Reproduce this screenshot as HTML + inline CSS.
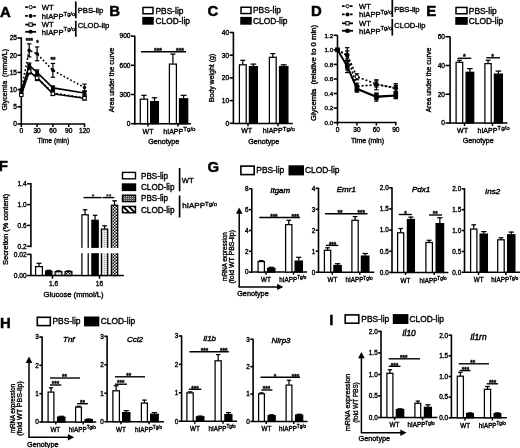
<!DOCTYPE html>
<html><head><meta charset="utf-8"><title>Figure</title>
<style>html,body{margin:0;padding:0;background:#fff}svg{display:block;filter:grayscale(1) blur(0.35px)}</style>
</head><body>
<svg width="520" height="448" viewBox="0 0 520 448" font-family="Liberation Sans, sans-serif" fill="#000">
<defs>
<pattern id="pgrey" width="2" height="2" patternUnits="userSpaceOnUse"><rect width="2" height="2" fill="#e4e4e4"/><rect width="1" height="1" fill="#aaa"/></pattern>
<pattern id="pchk" width="3" height="3" patternUnits="userSpaceOnUse"><rect width="3" height="3" fill="#fff"/><rect width="1.5" height="1.5" fill="#000"/><rect x="1.5" y="1.5" width="1.5" height="1.5" fill="#000"/></pattern>
<pattern id="pgrid" width="2" height="2" patternUnits="userSpaceOnUse"><rect width="2" height="2" fill="#555"/><rect width="1" height="1" fill="#bbb"/></pattern>
<pattern id="pdiag" width="4" height="4" patternUnits="userSpaceOnUse" patternTransform="rotate(-45)"><rect width="4" height="4" fill="#fff"/><rect width="2" height="4" fill="#000"/></pattern>
</defs>
<rect width="520" height="448" fill="#fff"/>
<text x="0" y="16.8" font-size="14.9" text-anchor="start" font-weight="bold" font-style="normal" stroke="#000" stroke-width="0.5">A</text>
<text x="109.2" y="16.3" font-size="14.9" text-anchor="start" font-weight="bold" font-style="normal" stroke="#000" stroke-width="0.5">B</text>
<text x="207.5" y="16.4" font-size="14.9" text-anchor="start" font-weight="bold" font-style="normal" stroke="#000" stroke-width="0.5">C</text>
<text x="310.9" y="16.3" font-size="14.9" text-anchor="start" font-weight="bold" font-style="normal" stroke="#000" stroke-width="0.5">D</text>
<text x="426.2" y="16.2" font-size="14.9" text-anchor="start" font-weight="bold" font-style="normal" stroke="#000" stroke-width="0.5">E</text>
<text x="-1.2" y="171" font-size="14.9" text-anchor="start" font-weight="bold" font-style="normal" stroke="#000" stroke-width="0.5">F</text>
<text x="207.6" y="171.7" font-size="14.9" text-anchor="start" font-weight="bold" font-style="normal" stroke="#000" stroke-width="0.5">G</text>
<text x="0" y="328.3" font-size="14.9" text-anchor="start" font-weight="bold" font-style="normal" stroke="#000" stroke-width="0.5">H</text>
<text x="329.2" y="324.9" font-size="14.9" text-anchor="start" font-weight="bold" font-style="normal" stroke="#000" stroke-width="0.5">I</text>
<line x1="25.2" y1="7.2" x2="36" y2="7.2" stroke="#000" stroke-width="1.8" stroke-linecap="butt" stroke-dasharray="2.6 1.4"/>
<circle cx="30.60" cy="7.20" r="1.7" fill="#fff" stroke="#000" stroke-width="1"/>
<line x1="25.2" y1="15.9" x2="36" y2="15.9" stroke="#000" stroke-width="1.8" stroke-linecap="butt" stroke-dasharray="2.6 1.4"/>
<circle cx="30.60" cy="15.90" r="2.0" fill="#000"/>
<line x1="25.2" y1="24.6" x2="36" y2="24.6" stroke="#000" stroke-width="1.8" stroke-linecap="butt"/>
<rect x="28.90" y="22.90" width="3.4" height="3.4" fill="#fff" stroke="#000" stroke-width="1"/>
<line x1="25.2" y1="31.8" x2="36" y2="31.8" stroke="#000" stroke-width="1.8" stroke-linecap="butt"/>
<circle cx="30.60" cy="31.80" r="2.0" fill="#000"/>
<text x="41.8" y="9.972" font-size="7.7" text-anchor="start" font-weight="normal" font-style="normal"  stroke="#000" stroke-width="0.36">WT</text>
<text x="41.8" y="18.672" font-size="7.7" text-anchor="start" font-weight="normal" font-style="normal"  stroke="#000" stroke-width="0.36">hIAPP<tspan dy="-3.08" font-size="5.80">Tg/o</tspan></text>
<text x="41.8" y="27.372" font-size="7.7" text-anchor="start" font-weight="normal" font-style="normal"  stroke="#000" stroke-width="0.36">WT</text>
<text x="41.8" y="34.572" font-size="7.7" text-anchor="start" font-weight="normal" font-style="normal"  stroke="#000" stroke-width="0.36">hIAPP<tspan dy="-3.08" font-size="5.80">Tg/o</tspan></text>
<line x1="75.8" y1="1.5" x2="75.8" y2="18.3" stroke="#000" stroke-width="1.7" stroke-linecap="butt"/>
<line x1="75.8" y1="20.8" x2="75.8" y2="36.8" stroke="#000" stroke-width="1.7" stroke-linecap="butt"/>
<text x="77.7" y="13.172" font-size="7.7" text-anchor="start" font-weight="normal" font-style="normal"  stroke="#000" stroke-width="0.36">PBS-lip</text>
<text x="77.7" y="28.372" font-size="7.7" text-anchor="start" font-weight="normal" font-style="normal"  stroke="#000" stroke-width="0.36">CLOD-lip</text>
<line x1="21.3" y1="37.4" x2="21.3" y2="124.69999999999999" stroke="#000" stroke-width="1.6" stroke-linecap="butt"/>
<line x1="17.5" y1="106.8" x2="21.3" y2="106.8" stroke="#000" stroke-width="1.6" stroke-linecap="butt"/>
<text x="17.0" y="109.176" font-size="6.6" text-anchor="end" font-weight="normal" font-style="normal"  stroke="#000" stroke-width="0.36">5</text>
<line x1="17.5" y1="89.6" x2="21.3" y2="89.6" stroke="#000" stroke-width="1.6" stroke-linecap="butt"/>
<text x="17.0" y="91.976" font-size="6.6" text-anchor="end" font-weight="normal" font-style="normal"  stroke="#000" stroke-width="0.36">10</text>
<line x1="17.5" y1="72.4" x2="21.3" y2="72.4" stroke="#000" stroke-width="1.6" stroke-linecap="butt"/>
<text x="17.0" y="74.77600000000001" font-size="6.6" text-anchor="end" font-weight="normal" font-style="normal"  stroke="#000" stroke-width="0.36">15</text>
<line x1="17.5" y1="55.2" x2="21.3" y2="55.2" stroke="#000" stroke-width="1.6" stroke-linecap="butt"/>
<text x="17.0" y="57.576" font-size="6.6" text-anchor="end" font-weight="normal" font-style="normal"  stroke="#000" stroke-width="0.36">20</text>
<line x1="17.5" y1="38.0" x2="21.3" y2="38.0" stroke="#000" stroke-width="1.6" stroke-linecap="butt"/>
<text x="17.0" y="40.376" font-size="6.6" text-anchor="end" font-weight="normal" font-style="normal"  stroke="#000" stroke-width="0.36">25</text>
<line x1="17.5" y1="124" x2="21.3" y2="124" stroke="#000" stroke-width="1.6" stroke-linecap="butt"/>
<text x="17.0" y="126.376" font-size="6.6" text-anchor="end" font-weight="normal" font-style="normal"  stroke="#000" stroke-width="0.36">0</text>
<line x1="20.7" y1="124.1" x2="85.4" y2="124.1" stroke="#000" stroke-width="1.5" stroke-linecap="butt"/>
<line x1="21.3" y1="124" x2="21.3" y2="127" stroke="#000" stroke-width="1.5" stroke-linecap="butt"/>
<text x="21.3" y="133.4" font-size="6.6" text-anchor="middle" font-weight="normal" font-style="normal"  stroke="#000" stroke-width="0.36">0</text>
<line x1="37.1" y1="124" x2="37.1" y2="127" stroke="#000" stroke-width="1.5" stroke-linecap="butt"/>
<text x="37.1" y="133.4" font-size="6.6" text-anchor="middle" font-weight="normal" font-style="normal"  stroke="#000" stroke-width="0.36">30</text>
<line x1="52.900000000000006" y1="124" x2="52.900000000000006" y2="127" stroke="#000" stroke-width="1.5" stroke-linecap="butt"/>
<text x="52.900000000000006" y="133.4" font-size="6.6" text-anchor="middle" font-weight="normal" font-style="normal"  stroke="#000" stroke-width="0.36">60</text>
<line x1="68.7" y1="124" x2="68.7" y2="127" stroke="#000" stroke-width="1.5" stroke-linecap="butt"/>
<text x="68.7" y="133.4" font-size="6.6" text-anchor="middle" font-weight="normal" font-style="normal"  stroke="#000" stroke-width="0.36">90</text>
<line x1="84.5" y1="124" x2="84.5" y2="127" stroke="#000" stroke-width="1.5" stroke-linecap="butt"/>
<text x="84.5" y="133.4" font-size="6.6" text-anchor="middle" font-weight="normal" font-style="normal"  stroke="#000" stroke-width="0.36">120</text>
<text x="53.3" y="143.3" font-size="7.1" text-anchor="middle" font-weight="normal" font-style="normal"  textLength="31.8" lengthAdjust="spacingAndGlyphs" stroke="#000" stroke-width="0.36">Time (min)</text>
<text x="7" y="79.7" font-size="7.2" text-anchor="middle" font-weight="normal" font-style="normal" transform="rotate(-90 7 79.7)"  textLength="61.4" lengthAdjust="spacingAndGlyphs" stroke="#000" stroke-width="0.36">Glycemia&#160;&#160;(mmol/L)</text>
<polyline points="21.30,89.60 29.20,50.38 37.10,53.82 52.90,70.34 84.50,87.54" fill="none" stroke="#000" stroke-width="1.6" stroke-dasharray="1.7 2.1"/>
<circle cx="21.30" cy="89.60" r="1.8" fill="#000"/>
<line x1="29.200000000000003" y1="43.848" x2="29.200000000000003" y2="56.92" stroke="#000" stroke-width="1.2" stroke-linecap="butt"/>
<line x1="27.000000000000004" y1="43.848" x2="31.400000000000002" y2="43.848" stroke="#000" stroke-width="1.2" stroke-linecap="butt"/>
<line x1="27.000000000000004" y1="56.92" x2="31.400000000000002" y2="56.92" stroke="#000" stroke-width="1.2" stroke-linecap="butt"/>
<circle cx="29.20" cy="50.38" r="1.8" fill="#000"/>
<line x1="37.1" y1="46.94400000000001" x2="37.1" y2="60.704000000000015" stroke="#000" stroke-width="1.2" stroke-linecap="butt"/>
<line x1="34.9" y1="46.94400000000001" x2="39.300000000000004" y2="46.94400000000001" stroke="#000" stroke-width="1.2" stroke-linecap="butt"/>
<line x1="34.9" y1="60.704000000000015" x2="39.300000000000004" y2="60.704000000000015" stroke="#000" stroke-width="1.2" stroke-linecap="butt"/>
<circle cx="37.10" cy="53.82" r="1.8" fill="#000"/>
<line x1="52.900000000000006" y1="63.455999999999996" x2="52.900000000000006" y2="77.216" stroke="#000" stroke-width="1.2" stroke-linecap="butt"/>
<line x1="50.7" y1="63.455999999999996" x2="55.10000000000001" y2="63.455999999999996" stroke="#000" stroke-width="1.2" stroke-linecap="butt"/>
<line x1="50.7" y1="77.216" x2="55.10000000000001" y2="77.216" stroke="#000" stroke-width="1.2" stroke-linecap="butt"/>
<circle cx="52.90" cy="70.34" r="1.8" fill="#000"/>
<line x1="84.5" y1="84.096" x2="84.5" y2="90.976" stroke="#000" stroke-width="1.2" stroke-linecap="butt"/>
<line x1="82.3" y1="84.096" x2="86.7" y2="84.096" stroke="#000" stroke-width="1.2" stroke-linecap="butt"/>
<line x1="82.3" y1="90.976" x2="86.7" y2="90.976" stroke="#000" stroke-width="1.2" stroke-linecap="butt"/>
<circle cx="84.50" cy="87.54" r="1.8" fill="#000"/>
<polyline points="21.30,94.76 29.20,71.02 37.10,77.56 52.90,93.04 84.50,97.86" fill="none" stroke="#000" stroke-width="1.6" stroke-dasharray="1.7 2.1"/>
<circle cx="21.30" cy="94.76" r="1.7" fill="#fff" stroke="#000" stroke-width="1"/>
<line x1="29.200000000000003" y1="68.024" x2="29.200000000000003" y2="74.024" stroke="#000" stroke-width="1.2" stroke-linecap="butt"/>
<line x1="27.000000000000004" y1="68.024" x2="31.400000000000002" y2="68.024" stroke="#000" stroke-width="1.2" stroke-linecap="butt"/>
<line x1="27.000000000000004" y1="74.024" x2="31.400000000000002" y2="74.024" stroke="#000" stroke-width="1.2" stroke-linecap="butt"/>
<circle cx="29.20" cy="71.02" r="1.7" fill="#fff" stroke="#000" stroke-width="1"/>
<line x1="37.1" y1="74.56" x2="37.1" y2="80.56" stroke="#000" stroke-width="1.2" stroke-linecap="butt"/>
<line x1="34.9" y1="74.56" x2="39.300000000000004" y2="74.56" stroke="#000" stroke-width="1.2" stroke-linecap="butt"/>
<line x1="34.9" y1="80.56" x2="39.300000000000004" y2="80.56" stroke="#000" stroke-width="1.2" stroke-linecap="butt"/>
<circle cx="37.10" cy="77.56" r="1.7" fill="#fff" stroke="#000" stroke-width="1"/>
<line x1="52.900000000000006" y1="90.54" x2="52.900000000000006" y2="95.54" stroke="#000" stroke-width="1.2" stroke-linecap="butt"/>
<line x1="50.7" y1="90.54" x2="55.10000000000001" y2="90.54" stroke="#000" stroke-width="1.2" stroke-linecap="butt"/>
<line x1="50.7" y1="95.54" x2="55.10000000000001" y2="95.54" stroke="#000" stroke-width="1.2" stroke-linecap="butt"/>
<circle cx="52.90" cy="93.04" r="1.7" fill="#fff" stroke="#000" stroke-width="1"/>
<line x1="84.5" y1="95.856" x2="84.5" y2="99.856" stroke="#000" stroke-width="1.2" stroke-linecap="butt"/>
<line x1="82.3" y1="95.856" x2="86.7" y2="95.856" stroke="#000" stroke-width="1.2" stroke-linecap="butt"/>
<line x1="82.3" y1="99.856" x2="86.7" y2="99.856" stroke="#000" stroke-width="1.2" stroke-linecap="butt"/>
<circle cx="84.50" cy="97.86" r="1.7" fill="#fff" stroke="#000" stroke-width="1"/>
<polyline points="21.30,94.76 29.20,71.37 37.10,77.90 52.90,93.73 84.50,98.20" fill="none" stroke="#000" stroke-width="1.6"/>
<rect x="19.60" y="93.06" width="3.4" height="3.4" fill="#fff" stroke="#000" stroke-width="1"/>
<line x1="29.200000000000003" y1="69.368" x2="29.200000000000003" y2="73.368" stroke="#000" stroke-width="1.2" stroke-linecap="butt"/>
<line x1="27.000000000000004" y1="69.368" x2="31.400000000000002" y2="69.368" stroke="#000" stroke-width="1.2" stroke-linecap="butt"/>
<line x1="27.000000000000004" y1="73.368" x2="31.400000000000002" y2="73.368" stroke="#000" stroke-width="1.2" stroke-linecap="butt"/>
<rect x="27.50" y="69.67" width="3.4" height="3.4" fill="#fff" stroke="#000" stroke-width="1"/>
<line x1="37.1" y1="75.904" x2="37.1" y2="79.904" stroke="#000" stroke-width="1.2" stroke-linecap="butt"/>
<line x1="34.9" y1="75.904" x2="39.300000000000004" y2="75.904" stroke="#000" stroke-width="1.2" stroke-linecap="butt"/>
<line x1="34.9" y1="79.904" x2="39.300000000000004" y2="79.904" stroke="#000" stroke-width="1.2" stroke-linecap="butt"/>
<rect x="35.40" y="76.20" width="3.4" height="3.4" fill="#fff" stroke="#000" stroke-width="1"/>
<line x1="52.900000000000006" y1="92.228" x2="52.900000000000006" y2="95.228" stroke="#000" stroke-width="1.2" stroke-linecap="butt"/>
<line x1="50.7" y1="92.228" x2="55.10000000000001" y2="92.228" stroke="#000" stroke-width="1.2" stroke-linecap="butt"/>
<line x1="50.7" y1="95.228" x2="55.10000000000001" y2="95.228" stroke="#000" stroke-width="1.2" stroke-linecap="butt"/>
<rect x="51.20" y="92.03" width="3.4" height="3.4" fill="#fff" stroke="#000" stroke-width="1"/>
<line x1="84.5" y1="96.7" x2="84.5" y2="99.7" stroke="#000" stroke-width="1.2" stroke-linecap="butt"/>
<line x1="82.3" y1="96.7" x2="86.7" y2="96.7" stroke="#000" stroke-width="1.2" stroke-linecap="butt"/>
<line x1="82.3" y1="99.7" x2="86.7" y2="99.7" stroke="#000" stroke-width="1.2" stroke-linecap="butt"/>
<rect x="82.80" y="96.50" width="3.4" height="3.4" fill="#fff" stroke="#000" stroke-width="1"/>
<polyline points="21.30,91.32 29.20,65.52 37.10,72.40 52.90,87.88 84.50,93.04" fill="none" stroke="#000" stroke-width="1.6"/>
<line x1="21.3" y1="89.32" x2="21.3" y2="93.32" stroke="#000" stroke-width="1.2" stroke-linecap="butt"/>
<line x1="19.1" y1="89.32" x2="23.5" y2="89.32" stroke="#000" stroke-width="1.2" stroke-linecap="butt"/>
<line x1="19.1" y1="93.32" x2="23.5" y2="93.32" stroke="#000" stroke-width="1.2" stroke-linecap="butt"/>
<rect x="19.40" y="89.42" width="3.8000000000000003" height="3.8000000000000003" fill="#000"/>
<line x1="29.200000000000003" y1="63.02000000000001" x2="29.200000000000003" y2="68.02000000000001" stroke="#000" stroke-width="1.2" stroke-linecap="butt"/>
<line x1="27.000000000000004" y1="63.02000000000001" x2="31.400000000000002" y2="63.02000000000001" stroke="#000" stroke-width="1.2" stroke-linecap="butt"/>
<line x1="27.000000000000004" y1="68.02000000000001" x2="31.400000000000002" y2="68.02000000000001" stroke="#000" stroke-width="1.2" stroke-linecap="butt"/>
<rect x="27.30" y="63.62" width="3.8000000000000003" height="3.8000000000000003" fill="#000"/>
<line x1="37.1" y1="69.9" x2="37.1" y2="74.9" stroke="#000" stroke-width="1.2" stroke-linecap="butt"/>
<line x1="34.9" y1="69.9" x2="39.300000000000004" y2="69.9" stroke="#000" stroke-width="1.2" stroke-linecap="butt"/>
<line x1="34.9" y1="74.9" x2="39.300000000000004" y2="74.9" stroke="#000" stroke-width="1.2" stroke-linecap="butt"/>
<rect x="35.20" y="70.50" width="3.8000000000000003" height="3.8000000000000003" fill="#000"/>
<line x1="52.900000000000006" y1="85.88" x2="52.900000000000006" y2="89.88" stroke="#000" stroke-width="1.2" stroke-linecap="butt"/>
<line x1="50.7" y1="85.88" x2="55.10000000000001" y2="85.88" stroke="#000" stroke-width="1.2" stroke-linecap="butt"/>
<line x1="50.7" y1="89.88" x2="55.10000000000001" y2="89.88" stroke="#000" stroke-width="1.2" stroke-linecap="butt"/>
<rect x="51.00" y="85.98" width="3.8000000000000003" height="3.8000000000000003" fill="#000"/>
<line x1="84.5" y1="91.04" x2="84.5" y2="95.04" stroke="#000" stroke-width="1.2" stroke-linecap="butt"/>
<line x1="82.3" y1="91.04" x2="86.7" y2="91.04" stroke="#000" stroke-width="1.2" stroke-linecap="butt"/>
<line x1="82.3" y1="95.04" x2="86.7" y2="95.04" stroke="#000" stroke-width="1.2" stroke-linecap="butt"/>
<rect x="82.60" y="91.14" width="3.8000000000000003" height="3.8000000000000003" fill="#000"/>
<text x="29.4" y="42.6" font-size="6.3" text-anchor="middle" font-weight="bold" font-style="normal" stroke="#000" stroke-width="0.4">***</text>
<text x="37.6" y="45.2" font-size="6.3" text-anchor="middle" font-weight="bold" font-style="normal" stroke="#000" stroke-width="0.4">*</text>
<text x="53" y="61.8" font-size="6.3" text-anchor="middle" font-weight="bold" font-style="normal" stroke="#000" stroke-width="0.4">**</text>
<rect x="143" y="7.449999999999999" width="10.00" height="6.30" fill="#fff" stroke="#000" stroke-width="1.5"/>
<rect x="143" y="17.650000000000002" width="10.00" height="6.30" fill="#000" stroke="#000" stroke-width="1.5"/>
<text x="155.5" y="13.623999999999999" font-size="8.4" text-anchor="start" font-weight="normal" font-style="normal"  stroke="#000" stroke-width="0.36">PBS-lip</text>
<text x="155.5" y="23.824" font-size="8.4" text-anchor="start" font-weight="normal" font-style="normal"  stroke="#000" stroke-width="0.36">CLOD-lip</text>
<line x1="134.8" y1="35.8" x2="134.8" y2="124.39999999999999" stroke="#000" stroke-width="1.6" stroke-linecap="butt"/>
<line x1="131.0" y1="123.7" x2="134.8" y2="123.7" stroke="#000" stroke-width="1.6" stroke-linecap="butt"/>
<text x="130.5" y="126.07600000000001" font-size="6.6" text-anchor="end" font-weight="normal" font-style="normal"  stroke="#000" stroke-width="0.36">0</text>
<line x1="131.0" y1="94.5" x2="134.8" y2="94.5" stroke="#000" stroke-width="1.6" stroke-linecap="butt"/>
<text x="130.5" y="96.876" font-size="6.6" text-anchor="end" font-weight="normal" font-style="normal"  stroke="#000" stroke-width="0.36">300</text>
<line x1="131.0" y1="65.30000000000001" x2="134.8" y2="65.30000000000001" stroke="#000" stroke-width="1.6" stroke-linecap="butt"/>
<text x="130.5" y="67.67600000000002" font-size="6.6" text-anchor="end" font-weight="normal" font-style="normal"  stroke="#000" stroke-width="0.36">600</text>
<line x1="131.0" y1="36.10000000000001" x2="134.8" y2="36.10000000000001" stroke="#000" stroke-width="1.6" stroke-linecap="butt"/>
<text x="130.5" y="38.476000000000006" font-size="6.6" text-anchor="end" font-weight="normal" font-style="normal"  stroke="#000" stroke-width="0.36">900</text>
<line x1="134.20000000000002" y1="123.8" x2="191" y2="123.8" stroke="#000" stroke-width="1.5" stroke-linecap="butt"/>
<line x1="143.95" y1="98.88" x2="143.95" y2="95" stroke="#000" stroke-width="1.25" stroke-linecap="butt"/>
<line x1="141.315" y1="95.3" x2="146.58499999999998" y2="95.3" stroke="#000" stroke-width="1.25" stroke-linecap="butt"/>
<rect x="140.29999999999998" y="99.17999999999999" width="7.30" height="24.52" fill="#fff" stroke="#000" stroke-width="1.25"/>
<line x1="154.5" y1="101.31333333333333" x2="154.5" y2="97.5" stroke="#000" stroke-width="1.25" stroke-linecap="butt"/>
<line x1="151.71" y1="97.8" x2="157.29" y2="97.8" stroke="#000" stroke-width="1.25" stroke-linecap="butt"/>
<rect x="150.6" y="101.61333333333333" width="7.80" height="22.09" fill="#000" stroke="#000" stroke-width="1.25"/>
<line x1="172.9" y1="63.8" x2="172.9" y2="53.8" stroke="#000" stroke-width="1.25" stroke-linecap="butt"/>
<line x1="170.358" y1="54.099999999999994" x2="175.442" y2="54.099999999999994" stroke="#000" stroke-width="1.25" stroke-linecap="butt"/>
<rect x="169.4" y="64.1" width="7.00" height="59.60" fill="#fff" stroke="#000" stroke-width="1.25"/>
<line x1="183.60000000000002" y1="98.5" x2="183.60000000000002" y2="95" stroke="#000" stroke-width="1.25" stroke-linecap="butt"/>
<line x1="180.686" y1="95.3" x2="186.51400000000004" y2="95.3" stroke="#000" stroke-width="1.25" stroke-linecap="butt"/>
<rect x="179.5" y="98.8" width="8.20" height="24.90" fill="#000" stroke="#000" stroke-width="1.25"/>
<line x1="148" y1="123.7" x2="148" y2="126.5" stroke="#000" stroke-width="1.5" stroke-linecap="butt"/>
<line x1="178" y1="123.7" x2="178" y2="126.5" stroke="#000" stroke-width="1.5" stroke-linecap="butt"/>
<line x1="141" y1="51.8" x2="186" y2="51.8" stroke="#000" stroke-width="1.4" stroke-linecap="butt"/>
<text x="158" y="52.8" font-size="7" text-anchor="middle" font-weight="bold" font-style="normal" stroke="#000" stroke-width="0.3">***</text>
<text x="180" y="52.8" font-size="7" text-anchor="middle" font-weight="bold" font-style="normal" stroke="#000" stroke-width="0.3">***</text>
<text x="148" y="133.5" font-size="7" text-anchor="middle" font-weight="normal" font-style="normal"  stroke="#000" stroke-width="0.36">WT</text>
<text x="163.3" y="133.5" font-size="7" text-anchor="start" font-weight="normal" font-style="normal"  stroke="#000" stroke-width="0.36">hIAPP<tspan dy="-2.80" font-size="6.20">Tg/o</tspan></text>
<text x="163.8" y="143.7" font-size="7.1" text-anchor="middle" font-weight="normal" font-style="normal"  textLength="31" lengthAdjust="spacingAndGlyphs" stroke="#000" stroke-width="0.36">Genotype</text>
<text x="114.3" y="80" font-size="7" text-anchor="middle" font-weight="normal" font-style="normal" transform="rotate(-90 114.3 80)"  textLength="64.5" lengthAdjust="spacingAndGlyphs" stroke="#000" stroke-width="0.36">Area under the curve</text>
<rect x="241" y="7.25" width="10.00" height="6.30" fill="#fff" stroke="#000" stroke-width="1.5"/>
<rect x="241" y="17.650000000000002" width="10.00" height="6.30" fill="#000" stroke="#000" stroke-width="1.5"/>
<text x="253" y="13.424" font-size="8.4" text-anchor="start" font-weight="normal" font-style="normal"  stroke="#000" stroke-width="0.36">PBS-lip</text>
<text x="253" y="23.824" font-size="8.4" text-anchor="start" font-weight="normal" font-style="normal"  stroke="#000" stroke-width="0.36">CLOD-lip</text>
<line x1="233.4" y1="31.9" x2="233.4" y2="124.0" stroke="#000" stroke-width="1.6" stroke-linecap="butt"/>
<line x1="229.6" y1="123.3" x2="233.4" y2="123.3" stroke="#000" stroke-width="1.6" stroke-linecap="butt"/>
<text x="229.1" y="125.676" font-size="6.6" text-anchor="end" font-weight="normal" font-style="normal"  stroke="#000" stroke-width="0.36">0</text>
<line x1="229.6" y1="100.6" x2="233.4" y2="100.6" stroke="#000" stroke-width="1.6" stroke-linecap="butt"/>
<text x="229.1" y="102.976" font-size="6.6" text-anchor="end" font-weight="normal" font-style="normal"  stroke="#000" stroke-width="0.36">10</text>
<line x1="229.6" y1="77.9" x2="233.4" y2="77.9" stroke="#000" stroke-width="1.6" stroke-linecap="butt"/>
<text x="229.1" y="80.27600000000001" font-size="6.6" text-anchor="end" font-weight="normal" font-style="normal"  stroke="#000" stroke-width="0.36">20</text>
<line x1="229.6" y1="55.2" x2="233.4" y2="55.2" stroke="#000" stroke-width="1.6" stroke-linecap="butt"/>
<text x="229.1" y="57.576" font-size="6.6" text-anchor="end" font-weight="normal" font-style="normal"  stroke="#000" stroke-width="0.36">30</text>
<line x1="229.6" y1="32.5" x2="233.4" y2="32.5" stroke="#000" stroke-width="1.6" stroke-linecap="butt"/>
<text x="229.1" y="34.876" font-size="6.6" text-anchor="end" font-weight="normal" font-style="normal"  stroke="#000" stroke-width="0.36">40</text>
<line x1="232.8" y1="123.4" x2="292.8" y2="123.4" stroke="#000" stroke-width="1.5" stroke-linecap="butt"/>
<line x1="242.8" y1="64.5" x2="242.8" y2="60" stroke="#000" stroke-width="1.25" stroke-linecap="butt"/>
<line x1="240.32000000000002" y1="60.3" x2="245.28" y2="60.3" stroke="#000" stroke-width="1.25" stroke-linecap="butt"/>
<rect x="239.4" y="64.8" width="6.80" height="58.50" fill="#fff" stroke="#000" stroke-width="1.25"/>
<line x1="253.4" y1="66.3" x2="253.4" y2="63.8" stroke="#000" stroke-width="1.25" stroke-linecap="butt"/>
<line x1="250.548" y1="64.1" x2="256.252" y2="64.1" stroke="#000" stroke-width="1.25" stroke-linecap="butt"/>
<rect x="249.4" y="66.6" width="8.00" height="56.70" fill="#000" stroke="#000" stroke-width="1.25"/>
<line x1="272.8" y1="57" x2="272.8" y2="53.3" stroke="#000" stroke-width="1.25" stroke-linecap="butt"/>
<line x1="270.32" y1="53.599999999999994" x2="275.28000000000003" y2="53.599999999999994" stroke="#000" stroke-width="1.25" stroke-linecap="butt"/>
<rect x="269.40000000000003" y="57.3" width="6.80" height="66.00" fill="#fff" stroke="#000" stroke-width="1.25"/>
<line x1="283.7" y1="66.3" x2="283.7" y2="64.5" stroke="#000" stroke-width="1.25" stroke-linecap="butt"/>
<line x1="280.724" y1="64.8" x2="286.676" y2="64.8" stroke="#000" stroke-width="1.25" stroke-linecap="butt"/>
<rect x="279.5" y="66.6" width="8.40" height="56.70" fill="#000" stroke="#000" stroke-width="1.25"/>
<line x1="248" y1="123.3" x2="248" y2="126.2" stroke="#000" stroke-width="1.5" stroke-linecap="butt"/>
<line x1="278" y1="123.3" x2="278" y2="126.2" stroke="#000" stroke-width="1.5" stroke-linecap="butt"/>
<text x="246.6" y="133.3" font-size="7" text-anchor="middle" font-weight="normal" font-style="normal"  stroke="#000" stroke-width="0.36">WT</text>
<text x="262.8" y="133.3" font-size="7" text-anchor="start" font-weight="normal" font-style="normal"  stroke="#000" stroke-width="0.36">hIAPP<tspan dy="-2.80" font-size="6.20">Tg/o</tspan></text>
<text x="263.8" y="143.5" font-size="7.1" text-anchor="middle" font-weight="normal" font-style="normal"  textLength="31" lengthAdjust="spacingAndGlyphs" stroke="#000" stroke-width="0.36">Genotype</text>
<text x="213.5" y="78" font-size="7" text-anchor="middle" font-weight="normal" font-style="normal" transform="rotate(-90 213.5 78)"  stroke="#000" stroke-width="0.36">Body weight (g)</text>
<line x1="342" y1="6.2" x2="353" y2="6.2" stroke="#000" stroke-width="1.8" stroke-linecap="butt" stroke-dasharray="2.6 1.4"/>
<circle cx="347.50" cy="6.20" r="1.7" fill="#fff" stroke="#000" stroke-width="1"/>
<line x1="342" y1="14.4" x2="353" y2="14.4" stroke="#000" stroke-width="1.8" stroke-linecap="butt" stroke-dasharray="2.6 1.4"/>
<circle cx="347.50" cy="14.40" r="2.0" fill="#000"/>
<line x1="342" y1="23.3" x2="353" y2="23.3" stroke="#000" stroke-width="1.8" stroke-linecap="butt"/>
<rect x="345.80" y="21.60" width="3.4" height="3.4" fill="#fff" stroke="#000" stroke-width="1"/>
<line x1="342" y1="30.8" x2="353" y2="30.8" stroke="#000" stroke-width="1.8" stroke-linecap="butt"/>
<rect x="345.50" y="28.80" width="4.0" height="4.0" fill="#000"/>
<text x="359" y="8.936" font-size="7.6" text-anchor="start" font-weight="normal" font-style="normal"  stroke="#000" stroke-width="0.36">WT</text>
<text x="359" y="17.136" font-size="7.6" text-anchor="start" font-weight="normal" font-style="normal"  stroke="#000" stroke-width="0.36">hIAPP<tspan dy="-3.04" font-size="5.80">Tg/o</tspan></text>
<text x="359" y="26.036" font-size="7.6" text-anchor="start" font-weight="normal" font-style="normal"  stroke="#000" stroke-width="0.36">WT</text>
<text x="359" y="33.536" font-size="7.6" text-anchor="start" font-weight="normal" font-style="normal"  stroke="#000" stroke-width="0.36">hIAPP<tspan dy="-3.04" font-size="5.80">Tg/o</tspan></text>
<line x1="392.3" y1="0" x2="392.3" y2="17" stroke="#000" stroke-width="1.7" stroke-linecap="butt"/>
<line x1="392.3" y1="18.8" x2="392.3" y2="35.6" stroke="#000" stroke-width="1.7" stroke-linecap="butt"/>
<text x="394.2" y="11.636" font-size="7.6" text-anchor="start" font-weight="normal" font-style="normal"  stroke="#000" stroke-width="0.36">PBS-lip</text>
<text x="394.2" y="27.836000000000002" font-size="7.6" text-anchor="start" font-weight="normal" font-style="normal"  stroke="#000" stroke-width="0.36">CLOD-lip</text>
<line x1="337.5" y1="35.1" x2="337.5" y2="123.19999999999999" stroke="#000" stroke-width="1.6" stroke-linecap="butt"/>
<line x1="333.7" y1="122.6" x2="337.5" y2="122.6" stroke="#000" stroke-width="1.6" stroke-linecap="butt"/>
<text x="333.2" y="124.832" font-size="6.2" text-anchor="end" font-weight="normal" font-style="normal"  stroke="#000" stroke-width="0.36">0.0</text>
<line x1="333.7" y1="108.05" x2="337.5" y2="108.05" stroke="#000" stroke-width="1.6" stroke-linecap="butt"/>
<text x="333.2" y="110.282" font-size="6.2" text-anchor="end" font-weight="normal" font-style="normal"  stroke="#000" stroke-width="0.36">0.2</text>
<line x1="333.7" y1="93.5" x2="337.5" y2="93.5" stroke="#000" stroke-width="1.6" stroke-linecap="butt"/>
<text x="333.2" y="95.732" font-size="6.2" text-anchor="end" font-weight="normal" font-style="normal"  stroke="#000" stroke-width="0.36">0.4</text>
<line x1="333.7" y1="78.94999999999999" x2="337.5" y2="78.94999999999999" stroke="#000" stroke-width="1.6" stroke-linecap="butt"/>
<text x="333.2" y="81.18199999999999" font-size="6.2" text-anchor="end" font-weight="normal" font-style="normal"  stroke="#000" stroke-width="0.36">0.6</text>
<line x1="333.7" y1="64.39999999999999" x2="337.5" y2="64.39999999999999" stroke="#000" stroke-width="1.6" stroke-linecap="butt"/>
<text x="333.2" y="66.63199999999999" font-size="6.2" text-anchor="end" font-weight="normal" font-style="normal"  stroke="#000" stroke-width="0.36">0.8</text>
<line x1="333.7" y1="49.849999999999994" x2="337.5" y2="49.849999999999994" stroke="#000" stroke-width="1.6" stroke-linecap="butt"/>
<text x="333.2" y="52.081999999999994" font-size="6.2" text-anchor="end" font-weight="normal" font-style="normal"  stroke="#000" stroke-width="0.36">1.0</text>
<line x1="333.7" y1="35.3" x2="337.5" y2="35.3" stroke="#000" stroke-width="1.6" stroke-linecap="butt"/>
<text x="333.2" y="37.532" font-size="6.2" text-anchor="end" font-weight="normal" font-style="normal"  stroke="#000" stroke-width="0.36">1.2</text>
<line x1="336.9" y1="122.6" x2="396.5" y2="122.6" stroke="#000" stroke-width="1.5" stroke-linecap="butt"/>
<line x1="337.5" y1="122.6" x2="337.5" y2="125.6" stroke="#000" stroke-width="1.5" stroke-linecap="butt"/>
<text x="337.5" y="132.1" font-size="6.6" text-anchor="middle" font-weight="normal" font-style="normal"  stroke="#000" stroke-width="0.36">0</text>
<line x1="356.94" y1="122.6" x2="356.94" y2="125.6" stroke="#000" stroke-width="1.5" stroke-linecap="butt"/>
<text x="356.94" y="132.1" font-size="6.6" text-anchor="middle" font-weight="normal" font-style="normal"  stroke="#000" stroke-width="0.36">30</text>
<line x1="376.38" y1="122.6" x2="376.38" y2="125.6" stroke="#000" stroke-width="1.5" stroke-linecap="butt"/>
<text x="376.38" y="132.1" font-size="6.6" text-anchor="middle" font-weight="normal" font-style="normal"  stroke="#000" stroke-width="0.36">60</text>
<line x1="395.82" y1="122.6" x2="395.82" y2="125.6" stroke="#000" stroke-width="1.5" stroke-linecap="butt"/>
<text x="395.82" y="132.1" font-size="6.6" text-anchor="middle" font-weight="normal" font-style="normal"  stroke="#000" stroke-width="0.36">90</text>
<text x="367.5" y="142.5" font-size="7" text-anchor="middle" font-weight="normal" font-style="normal"  stroke="#000" stroke-width="0.36">Time (min)</text>
<text x="315.8" y="73" font-size="7.2" text-anchor="middle" font-weight="normal" font-style="normal" transform="rotate(-90 315.8 73)"  textLength="96" lengthAdjust="spacingAndGlyphs" stroke="#000" stroke-width="0.36">Glycemia&#160;&#160;(relative to 0 min)</text>
<polyline points="337.50,49.85 347.22,54.94 356.94,76.77 376.38,84.04 395.82,88.41" fill="none" stroke="#000" stroke-width="1.7" stroke-dasharray="2 2"/>
<circle cx="337.50" cy="49.85" r="1.9" fill="#fff" stroke="#000" stroke-width="1"/>
<line x1="347.22" y1="50.942499999999995" x2="347.22" y2="58.942499999999995" stroke="#000" stroke-width="1.2" stroke-linecap="butt"/>
<line x1="345.02000000000004" y1="50.942499999999995" x2="349.42" y2="50.942499999999995" stroke="#000" stroke-width="1.2" stroke-linecap="butt"/>
<line x1="345.02000000000004" y1="58.942499999999995" x2="349.42" y2="58.942499999999995" stroke="#000" stroke-width="1.2" stroke-linecap="butt"/>
<circle cx="347.22" cy="54.94" r="1.9" fill="#fff" stroke="#000" stroke-width="1"/>
<line x1="356.94" y1="73.76749999999998" x2="356.94" y2="79.76749999999998" stroke="#000" stroke-width="1.2" stroke-linecap="butt"/>
<line x1="354.74" y1="73.76749999999998" x2="359.14" y2="73.76749999999998" stroke="#000" stroke-width="1.2" stroke-linecap="butt"/>
<line x1="354.74" y1="79.76749999999998" x2="359.14" y2="79.76749999999998" stroke="#000" stroke-width="1.2" stroke-linecap="butt"/>
<circle cx="356.94" cy="76.77" r="1.9" fill="#fff" stroke="#000" stroke-width="1"/>
<line x1="376.38" y1="81.04249999999999" x2="376.38" y2="87.04249999999999" stroke="#000" stroke-width="1.2" stroke-linecap="butt"/>
<line x1="374.18" y1="81.04249999999999" x2="378.58" y2="81.04249999999999" stroke="#000" stroke-width="1.2" stroke-linecap="butt"/>
<line x1="374.18" y1="87.04249999999999" x2="378.58" y2="87.04249999999999" stroke="#000" stroke-width="1.2" stroke-linecap="butt"/>
<circle cx="376.38" cy="84.04" r="1.9" fill="#fff" stroke="#000" stroke-width="1"/>
<line x1="395.82" y1="85.4075" x2="395.82" y2="91.4075" stroke="#000" stroke-width="1.2" stroke-linecap="butt"/>
<line x1="393.62" y1="85.4075" x2="398.02" y2="85.4075" stroke="#000" stroke-width="1.2" stroke-linecap="butt"/>
<line x1="393.62" y1="91.4075" x2="398.02" y2="91.4075" stroke="#000" stroke-width="1.2" stroke-linecap="butt"/>
<circle cx="395.82" cy="88.41" r="1.9" fill="#fff" stroke="#000" stroke-width="1"/>
<polyline points="337.50,49.85 347.22,55.67 356.94,86.22 376.38,84.77 395.82,87.68" fill="none" stroke="#000" stroke-width="1.7" stroke-dasharray="2 2"/>
<circle cx="337.50" cy="49.85" r="2.1" fill="#000"/>
<line x1="347.22" y1="47.66999999999999" x2="347.22" y2="63.66999999999999" stroke="#000" stroke-width="1.2" stroke-linecap="butt"/>
<line x1="345.02000000000004" y1="47.66999999999999" x2="349.42" y2="47.66999999999999" stroke="#000" stroke-width="1.2" stroke-linecap="butt"/>
<line x1="345.02000000000004" y1="63.66999999999999" x2="349.42" y2="63.66999999999999" stroke="#000" stroke-width="1.2" stroke-linecap="butt"/>
<circle cx="347.22" cy="55.67" r="2.1" fill="#000"/>
<line x1="356.94" y1="83.225" x2="356.94" y2="89.225" stroke="#000" stroke-width="1.2" stroke-linecap="butt"/>
<line x1="354.74" y1="83.225" x2="359.14" y2="83.225" stroke="#000" stroke-width="1.2" stroke-linecap="butt"/>
<line x1="354.74" y1="89.225" x2="359.14" y2="89.225" stroke="#000" stroke-width="1.2" stroke-linecap="butt"/>
<circle cx="356.94" cy="86.22" r="2.1" fill="#000"/>
<line x1="376.38" y1="79.77" x2="376.38" y2="89.77" stroke="#000" stroke-width="1.2" stroke-linecap="butt"/>
<line x1="374.18" y1="79.77" x2="378.58" y2="79.77" stroke="#000" stroke-width="1.2" stroke-linecap="butt"/>
<line x1="374.18" y1="89.77" x2="378.58" y2="89.77" stroke="#000" stroke-width="1.2" stroke-linecap="butt"/>
<circle cx="376.38" cy="84.77" r="2.1" fill="#000"/>
<line x1="395.82" y1="83.68" x2="395.82" y2="91.68" stroke="#000" stroke-width="1.2" stroke-linecap="butt"/>
<line x1="393.62" y1="83.68" x2="398.02" y2="83.68" stroke="#000" stroke-width="1.2" stroke-linecap="butt"/>
<line x1="393.62" y1="91.68" x2="398.02" y2="91.68" stroke="#000" stroke-width="1.2" stroke-linecap="butt"/>
<circle cx="395.82" cy="87.68" r="2.1" fill="#000"/>
<polyline points="337.50,49.85 347.22,65.85 356.94,88.41 376.38,96.41 395.82,95.32" fill="none" stroke="#000" stroke-width="1.6"/>
<rect x="335.70" y="48.05" width="3.6" height="3.6" fill="#fff" stroke="#000" stroke-width="1"/>
<line x1="347.22" y1="61.85499999999999" x2="347.22" y2="69.85499999999999" stroke="#000" stroke-width="1.2" stroke-linecap="butt"/>
<line x1="345.02000000000004" y1="61.85499999999999" x2="349.42" y2="61.85499999999999" stroke="#000" stroke-width="1.2" stroke-linecap="butt"/>
<line x1="345.02000000000004" y1="69.85499999999999" x2="349.42" y2="69.85499999999999" stroke="#000" stroke-width="1.2" stroke-linecap="butt"/>
<rect x="345.42" y="64.05" width="3.6" height="3.6" fill="#fff" stroke="#000" stroke-width="1"/>
<line x1="356.94" y1="85.4075" x2="356.94" y2="91.4075" stroke="#000" stroke-width="1.2" stroke-linecap="butt"/>
<line x1="354.74" y1="85.4075" x2="359.14" y2="85.4075" stroke="#000" stroke-width="1.2" stroke-linecap="butt"/>
<line x1="354.74" y1="91.4075" x2="359.14" y2="91.4075" stroke="#000" stroke-width="1.2" stroke-linecap="butt"/>
<rect x="355.14" y="86.61" width="3.6" height="3.6" fill="#fff" stroke="#000" stroke-width="1"/>
<line x1="376.38" y1="93.41" x2="376.38" y2="99.41" stroke="#000" stroke-width="1.2" stroke-linecap="butt"/>
<line x1="374.18" y1="93.41" x2="378.58" y2="93.41" stroke="#000" stroke-width="1.2" stroke-linecap="butt"/>
<line x1="374.18" y1="99.41" x2="378.58" y2="99.41" stroke="#000" stroke-width="1.2" stroke-linecap="butt"/>
<rect x="374.58" y="94.61" width="3.6" height="3.6" fill="#fff" stroke="#000" stroke-width="1"/>
<line x1="395.82" y1="92.31875" x2="395.82" y2="98.31875" stroke="#000" stroke-width="1.2" stroke-linecap="butt"/>
<line x1="393.62" y1="92.31875" x2="398.02" y2="92.31875" stroke="#000" stroke-width="1.2" stroke-linecap="butt"/>
<line x1="393.62" y1="98.31875" x2="398.02" y2="98.31875" stroke="#000" stroke-width="1.2" stroke-linecap="butt"/>
<rect x="394.02" y="93.52" width="3.6" height="3.6" fill="#fff" stroke="#000" stroke-width="1"/>
<polyline points="337.50,49.85 347.22,66.58 356.94,89.13 376.38,97.14 395.82,95.68" fill="none" stroke="#000" stroke-width="1.6"/>
<rect x="335.40" y="47.75" width="4.2" height="4.2" fill="#000"/>
<line x1="347.22" y1="60.582499999999996" x2="347.22" y2="72.5825" stroke="#000" stroke-width="1.2" stroke-linecap="butt"/>
<line x1="345.02000000000004" y1="60.582499999999996" x2="349.42" y2="60.582499999999996" stroke="#000" stroke-width="1.2" stroke-linecap="butt"/>
<line x1="345.02000000000004" y1="72.5825" x2="349.42" y2="72.5825" stroke="#000" stroke-width="1.2" stroke-linecap="butt"/>
<rect x="345.12" y="64.48" width="4.2" height="4.2" fill="#000"/>
<line x1="356.94" y1="86.13499999999999" x2="356.94" y2="92.13499999999999" stroke="#000" stroke-width="1.2" stroke-linecap="butt"/>
<line x1="354.74" y1="86.13499999999999" x2="359.14" y2="86.13499999999999" stroke="#000" stroke-width="1.2" stroke-linecap="butt"/>
<line x1="354.74" y1="92.13499999999999" x2="359.14" y2="92.13499999999999" stroke="#000" stroke-width="1.2" stroke-linecap="butt"/>
<rect x="354.84" y="87.03" width="4.2" height="4.2" fill="#000"/>
<line x1="376.38" y1="93.13749999999999" x2="376.38" y2="101.13749999999999" stroke="#000" stroke-width="1.2" stroke-linecap="butt"/>
<line x1="374.18" y1="93.13749999999999" x2="378.58" y2="93.13749999999999" stroke="#000" stroke-width="1.2" stroke-linecap="butt"/>
<line x1="374.18" y1="101.13749999999999" x2="378.58" y2="101.13749999999999" stroke="#000" stroke-width="1.2" stroke-linecap="butt"/>
<rect x="374.28" y="95.04" width="4.2" height="4.2" fill="#000"/>
<line x1="395.82" y1="92.68249999999999" x2="395.82" y2="98.68249999999999" stroke="#000" stroke-width="1.2" stroke-linecap="butt"/>
<line x1="393.62" y1="92.68249999999999" x2="398.02" y2="92.68249999999999" stroke="#000" stroke-width="1.2" stroke-linecap="butt"/>
<line x1="393.62" y1="98.68249999999999" x2="398.02" y2="98.68249999999999" stroke="#000" stroke-width="1.2" stroke-linecap="butt"/>
<rect x="393.72" y="93.58" width="4.2" height="4.2" fill="#000"/>
<rect x="456" y="7.449999999999999" width="11.00" height="6.30" fill="#fff" stroke="#000" stroke-width="1.5"/>
<rect x="456" y="17.75" width="11.00" height="6.30" fill="#000" stroke="#000" stroke-width="1.5"/>
<text x="468.8" y="13.623999999999999" font-size="8.4" text-anchor="start" font-weight="normal" font-style="normal"  stroke="#000" stroke-width="0.36">PBS-lip</text>
<text x="468.8" y="23.924" font-size="8.4" text-anchor="start" font-weight="normal" font-style="normal"  stroke="#000" stroke-width="0.36">CLOD-lip</text>
<line x1="450.1" y1="36.4" x2="450.1" y2="123.6" stroke="#000" stroke-width="1.6" stroke-linecap="butt"/>
<line x1="445.5" y1="123.0" x2="450.1" y2="123.0" stroke="#000" stroke-width="1.6" stroke-linecap="butt"/>
<text x="445.0" y="125.376" font-size="6.6" text-anchor="end" font-weight="normal" font-style="normal"  stroke="#000" stroke-width="0.36">0</text>
<line x1="445.5" y1="94.25" x2="450.1" y2="94.25" stroke="#000" stroke-width="1.6" stroke-linecap="butt"/>
<text x="445.0" y="96.626" font-size="6.6" text-anchor="end" font-weight="normal" font-style="normal"  stroke="#000" stroke-width="0.36">20</text>
<line x1="445.5" y1="65.5" x2="450.1" y2="65.5" stroke="#000" stroke-width="1.6" stroke-linecap="butt"/>
<text x="445.0" y="67.876" font-size="6.6" text-anchor="end" font-weight="normal" font-style="normal"  stroke="#000" stroke-width="0.36">40</text>
<line x1="445.5" y1="36.75" x2="450.1" y2="36.75" stroke="#000" stroke-width="1.6" stroke-linecap="butt"/>
<text x="445.0" y="39.126" font-size="6.6" text-anchor="end" font-weight="normal" font-style="normal"  stroke="#000" stroke-width="0.36">60</text>
<line x1="449.5" y1="123.0" x2="507.4" y2="123.0" stroke="#000" stroke-width="1.5" stroke-linecap="butt"/>
<line x1="459.4" y1="62" x2="459.4" y2="60" stroke="#000" stroke-width="1.25" stroke-linecap="butt"/>
<line x1="456.98199999999997" y1="60.3" x2="461.818" y2="60.3" stroke="#000" stroke-width="1.25" stroke-linecap="butt"/>
<rect x="456.1" y="62.3" width="6.60" height="60.70" fill="#fff" stroke="#000" stroke-width="1.25"/>
<line x1="469.9" y1="72" x2="469.9" y2="68.3" stroke="#000" stroke-width="1.25" stroke-linecap="butt"/>
<line x1="467.17199999999997" y1="68.6" x2="472.628" y2="68.6" stroke="#000" stroke-width="1.25" stroke-linecap="butt"/>
<rect x="466.1" y="72.3" width="7.60" height="50.70" fill="#000" stroke="#000" stroke-width="1.25"/>
<line x1="488.05" y1="63.3" x2="488.05" y2="60" stroke="#000" stroke-width="1.25" stroke-linecap="butt"/>
<line x1="485.725" y1="60.3" x2="490.375" y2="60.3" stroke="#000" stroke-width="1.25" stroke-linecap="butt"/>
<rect x="484.90000000000003" y="63.599999999999994" width="6.30" height="59.40" fill="#fff" stroke="#000" stroke-width="1.25"/>
<line x1="498.4" y1="73.8" x2="498.4" y2="70.8" stroke="#000" stroke-width="1.25" stroke-linecap="butt"/>
<line x1="495.548" y1="71.1" x2="501.25199999999995" y2="71.1" stroke="#000" stroke-width="1.25" stroke-linecap="butt"/>
<rect x="494.40000000000003" y="74.1" width="8.00" height="48.90" fill="#000" stroke="#000" stroke-width="1.25"/>
<line x1="464.5" y1="123.0" x2="464.5" y2="126" stroke="#000" stroke-width="1.5" stroke-linecap="butt"/>
<line x1="492.5" y1="123.0" x2="492.5" y2="126" stroke="#000" stroke-width="1.5" stroke-linecap="butt"/>
<line x1="457.5" y1="58.3" x2="471.3" y2="58.3" stroke="#000" stroke-width="1.4" stroke-linecap="butt"/>
<text x="464.3" y="59.3" font-size="7" text-anchor="middle" font-weight="bold" font-style="normal" stroke="#000" stroke-width="0.3">*</text>
<line x1="486.3" y1="57.8" x2="500" y2="57.8" stroke="#000" stroke-width="1.4" stroke-linecap="butt"/>
<text x="492.5" y="58.8" font-size="7" text-anchor="middle" font-weight="bold" font-style="normal" stroke="#000" stroke-width="0.3">*</text>
<text x="462.5" y="133.2" font-size="7" text-anchor="middle" font-weight="normal" font-style="normal"  stroke="#000" stroke-width="0.36">WT</text>
<text x="477.5" y="133.2" font-size="7" text-anchor="start" font-weight="normal" font-style="normal"  stroke="#000" stroke-width="0.36">hIAPP<tspan dy="-2.80" font-size="6.20">Tg/o</tspan></text>
<text x="478.3" y="143.2" font-size="7.1" text-anchor="middle" font-weight="normal" font-style="normal"  textLength="31" lengthAdjust="spacingAndGlyphs" stroke="#000" stroke-width="0.36">Genotype</text>
<text x="431.3" y="80" font-size="7" text-anchor="middle" font-weight="normal" font-style="normal" transform="rotate(-90 431.3 80)"  textLength="64.5" lengthAdjust="spacingAndGlyphs" stroke="#000" stroke-width="0.36">Area under the curve</text>
<line x1="30.9" y1="182.9" x2="30.9" y2="247.2" stroke="#000" stroke-width="1.6" stroke-linecap="butt"/>
<line x1="30.9" y1="253.8" x2="30.9" y2="276" stroke="#000" stroke-width="1.6" stroke-linecap="butt"/>
<line x1="27.099999999999998" y1="183.8" x2="30.9" y2="183.8" stroke="#000" stroke-width="1.5" stroke-linecap="butt"/>
<text x="26.7" y="186.20000000000002" font-size="6.6" text-anchor="end" font-weight="normal" font-style="normal"  stroke="#000" stroke-width="0.36">1.4</text>
<line x1="27.099999999999998" y1="204.6" x2="30.9" y2="204.6" stroke="#000" stroke-width="1.5" stroke-linecap="butt"/>
<text x="26.7" y="207.0" font-size="6.6" text-anchor="end" font-weight="normal" font-style="normal"  stroke="#000" stroke-width="0.36">1.0</text>
<line x1="27.099999999999998" y1="225.4" x2="30.9" y2="225.4" stroke="#000" stroke-width="1.5" stroke-linecap="butt"/>
<text x="26.7" y="227.8" font-size="6.6" text-anchor="end" font-weight="normal" font-style="normal"  stroke="#000" stroke-width="0.36">0.6</text>
<line x1="27.099999999999998" y1="246.3" x2="30.9" y2="246.3" stroke="#000" stroke-width="1.5" stroke-linecap="butt"/>
<text x="26.7" y="248.70000000000002" font-size="6.6" text-anchor="end" font-weight="normal" font-style="normal"  stroke="#000" stroke-width="0.36">0.2</text>
<line x1="27.099999999999998" y1="254.4" x2="30.9" y2="254.4" stroke="#000" stroke-width="1.5" stroke-linecap="butt"/>
<text x="26.7" y="256.8" font-size="6.6" text-anchor="end" font-weight="normal" font-style="normal"  stroke="#000" stroke-width="0.36">0.02</text>
<line x1="27.099999999999998" y1="275.5" x2="30.9" y2="275.5" stroke="#000" stroke-width="1.5" stroke-linecap="butt"/>
<text x="26.7" y="277.9" font-size="6.6" text-anchor="end" font-weight="normal" font-style="normal"  stroke="#000" stroke-width="0.36">0.00</text>
<line x1="30.299999999999997" y1="275.5" x2="123.8" y2="275.5" stroke="#000" stroke-width="1.5" stroke-linecap="butt"/>
<line x1="52.5" y1="275.5" x2="52.5" y2="278.8" stroke="#000" stroke-width="1.5" stroke-linecap="butt"/>
<line x1="99.5" y1="275.5" x2="99.5" y2="278.8" stroke="#000" stroke-width="1.5" stroke-linecap="butt"/>
<text x="53.5" y="285.7" font-size="6.6" text-anchor="middle" font-weight="normal" font-style="normal"  stroke="#000" stroke-width="0.36">1.6</text>
<text x="99.5" y="285.7" font-size="6.6" text-anchor="middle" font-weight="normal" font-style="normal"  stroke="#000" stroke-width="0.36">16</text>
<text x="73.6" y="297" font-size="7" text-anchor="middle" font-weight="normal" font-style="normal"  textLength="60" lengthAdjust="spacingAndGlyphs" stroke="#000" stroke-width="0.36">Glucose (mmol/L)</text>
<text x="7.6" y="229.4" font-size="7.2" text-anchor="middle" font-weight="normal" font-style="normal" transform="rotate(-90 7.6 229.4)"  textLength="71" lengthAdjust="spacingAndGlyphs" stroke="#000" stroke-width="0.36">Secretion (% content)</text>
<line x1="39.0" y1="266.3" x2="39.0" y2="263" stroke="#000" stroke-width="1.25" stroke-linecap="butt"/>
<line x1="36.52" y1="263.3" x2="41.48" y2="263.3" stroke="#000" stroke-width="1.25" stroke-linecap="butt"/>
<rect x="35.6" y="266.6" width="6.80" height="8.90" fill="#fff" stroke="#000" stroke-width="1.25"/>
<line x1="48.75" y1="270.8" x2="48.75" y2="270" stroke="#000" stroke-width="1.25" stroke-linecap="butt"/>
<line x1="46.425" y1="270.3" x2="51.075" y2="270.3" stroke="#000" stroke-width="1.25" stroke-linecap="butt"/>
<rect x="45.6" y="271.1" width="6.30" height="4.40" fill="#000" stroke="#000" stroke-width="1.25"/>
<line x1="58.5" y1="271.3" x2="58.5" y2="270.6" stroke="#000" stroke-width="1.25" stroke-linecap="butt"/>
<line x1="56.02" y1="270.90000000000003" x2="60.98" y2="270.90000000000003" stroke="#000" stroke-width="1.25" stroke-linecap="butt"/>
<rect x="55.1" y="271.6" width="6.80" height="3.90" fill="url(#pgrey)" stroke="#000" stroke-width="1.25"/>
<line x1="68.5" y1="271.3" x2="68.5" y2="270.6" stroke="#000" stroke-width="1.25" stroke-linecap="butt"/>
<line x1="66.02" y1="270.90000000000003" x2="70.98" y2="270.90000000000003" stroke="#000" stroke-width="1.25" stroke-linecap="butt"/>
<rect x="65.1" y="271.6" width="6.80" height="3.90" fill="url(#pchk)" stroke="#000" stroke-width="1.25"/>
<line x1="85.05" y1="214.5" x2="85.05" y2="209.5" stroke="#000" stroke-width="1.25" stroke-linecap="butt"/>
<line x1="82.725" y1="209.8" x2="87.375" y2="209.8" stroke="#000" stroke-width="1.25" stroke-linecap="butt"/>
<rect x="81.89999999999999" y="214.8" width="6.30" height="60.70" fill="#fff" stroke="#000" stroke-width="1.25"/>
<line x1="95.05" y1="220" x2="95.05" y2="215" stroke="#000" stroke-width="1.25" stroke-linecap="butt"/>
<line x1="92.725" y1="215.3" x2="97.375" y2="215.3" stroke="#000" stroke-width="1.25" stroke-linecap="butt"/>
<rect x="91.89999999999999" y="220.3" width="6.30" height="55.20" fill="#000" stroke="#000" stroke-width="1.25"/>
<line x1="104.55" y1="228.8" x2="104.55" y2="225.5" stroke="#000" stroke-width="1.25" stroke-linecap="butt"/>
<line x1="102.225" y1="225.8" x2="106.875" y2="225.8" stroke="#000" stroke-width="1.25" stroke-linecap="butt"/>
<rect x="101.39999999999999" y="229.10000000000002" width="6.30" height="46.40" fill="url(#pgrey)" stroke="#000" stroke-width="1.25"/>
<line x1="114.55" y1="205" x2="114.55" y2="200.5" stroke="#000" stroke-width="1.25" stroke-linecap="butt"/>
<line x1="112.225" y1="200.8" x2="116.875" y2="200.8" stroke="#000" stroke-width="1.25" stroke-linecap="butt"/>
<rect x="111.39999999999999" y="205.3" width="6.30" height="70.20" fill="url(#pchk)" stroke="#000" stroke-width="1.25"/>
<rect x="78" y="247.9" width="44" height="5.3" fill="#fff"/>
<line x1="83.5" y1="197.6" x2="101.8" y2="197.6" stroke="#000" stroke-width="1.4" stroke-linecap="butt"/>
<line x1="102.6" y1="197.6" x2="114.3" y2="197.6" stroke="#000" stroke-width="1.4" stroke-linecap="butt"/>
<text x="93.1" y="198.8" font-size="7" text-anchor="middle" font-weight="bold" font-style="normal" >*</text>
<text x="108.8" y="198.8" font-size="7" text-anchor="middle" font-weight="bold" font-style="normal" >**</text>
<rect x="122.5" y="172.4" width="13.00" height="6.40" fill="#fff" stroke="#000" stroke-width="1.4"/>
<rect x="122.5" y="184.0" width="13.00" height="6.40" fill="#000" stroke="#000" stroke-width="1.4"/>
<rect x="122.5" y="195.20000000000002" width="13.00" height="6.40" fill="url(#pgrid)" stroke="#000" stroke-width="1.4"/>
<rect x="122.5" y="206.4" width="13.00" height="6.40" fill="url(#pdiag)" stroke="#000" stroke-width="1.4"/>
<text x="141" y="178.5" font-size="8.15" text-anchor="start" font-weight="normal" font-style="normal"  stroke="#000" stroke-width="0.36">PBS-lip</text>
<text x="141" y="190.3" font-size="8.15" text-anchor="start" font-weight="normal" font-style="normal"  stroke="#000" stroke-width="0.36">CLOD-lip</text>
<text x="141" y="201.1" font-size="8.15" text-anchor="start" font-weight="normal" font-style="normal"  stroke="#000" stroke-width="0.36">PBS-lip</text>
<text x="141" y="212.5" font-size="8.15" text-anchor="start" font-weight="normal" font-style="normal"  stroke="#000" stroke-width="0.36">CLOD-lip</text>
<line x1="179.6" y1="168" x2="179.6" y2="191.3" stroke="#000" stroke-width="1.7" stroke-linecap="butt"/>
<line x1="179.6" y1="195.5" x2="179.6" y2="217.5" stroke="#000" stroke-width="1.7" stroke-linecap="butt"/>
<text x="181.8" y="183.4" font-size="7.7" text-anchor="start" font-weight="normal" font-style="normal"  stroke="#000" stroke-width="0.36">WT</text>
<text x="182.3" y="208.3" font-size="8.0" text-anchor="start" font-weight="normal" font-style="normal"  stroke="#000" stroke-width="0.36">hIAPP<tspan dy="-2.40" font-size="6.00">Tg/o</tspan></text>
<rect x="240.9" y="166.1" width="13.30" height="8.50" fill="#fff" stroke="#000" stroke-width="1.6"/>
<text x="256.3" y="173.1" font-size="8.4" text-anchor="start" font-weight="normal" font-style="normal"  stroke="#000" stroke-width="0.36">PBS-lip</text>
<rect x="289.3" y="166.1" width="13.90" height="8.50" fill="#000" stroke="#000" stroke-width="1.6"/>
<text x="305" y="173.1" font-size="8.4" text-anchor="start" font-weight="normal" font-style="normal"  stroke="#000" stroke-width="0.36">CLOD-lip</text>
<line x1="239.2" y1="211.4" x2="239.2" y2="286.9" stroke="#000" stroke-width="1.5" stroke-linecap="butt"/>
<line x1="238.6" y1="286.9" x2="279.4" y2="286.9" stroke="#000" stroke-width="1.5" stroke-linecap="butt"/>
<polygon points="239.2,207.4 235.89999999999998,213.70000000000002 242.5,213.70000000000002" fill="#000"/>
<polygon points="283.4,286.9 277.09999999999997,283.7 277.09999999999997,290.09999999999997" fill="#000"/>
<text x="237.2" y="295.7" font-size="7.2" text-anchor="start" font-weight="normal" font-style="normal"  textLength="31.5" lengthAdjust="spacingAndGlyphs" stroke="#000" stroke-width="0.36">Genotype</text>
<text x="226.7" y="256.7" font-size="6.8" text-anchor="middle" font-weight="normal" font-style="normal" transform="rotate(-90 226.7 256.7)"  textLength="49" lengthAdjust="spacingAndGlyphs" stroke="#000" stroke-width="0.36">mRNA expression</text>
<text x="234.1" y="256.7" font-size="6.8" text-anchor="middle" font-weight="normal" font-style="normal" transform="rotate(-90 234.1 256.7)"  textLength="53.5" lengthAdjust="spacingAndGlyphs" stroke="#000" stroke-width="0.36">(fold WT PBS-lip)</text>
<line x1="251.8" y1="188.20000000000002" x2="251.8" y2="272.70000000000005" stroke="#000" stroke-width="1.6" stroke-linecap="butt"/>
<line x1="249.0" y1="272.1" x2="251.8" y2="272.1" stroke="#000" stroke-width="1.6" stroke-linecap="butt"/>
<text x="248.5" y="274.404" font-size="6.4" text-anchor="end" font-weight="normal" font-style="normal"  stroke="#000" stroke-width="0.36">0</text>
<line x1="249.0" y1="251.27500000000003" x2="251.8" y2="251.27500000000003" stroke="#000" stroke-width="1.6" stroke-linecap="butt"/>
<text x="248.5" y="253.57900000000004" font-size="6.4" text-anchor="end" font-weight="normal" font-style="normal"  stroke="#000" stroke-width="0.36">2</text>
<line x1="249.0" y1="230.45000000000002" x2="251.8" y2="230.45000000000002" stroke="#000" stroke-width="1.6" stroke-linecap="butt"/>
<text x="248.5" y="232.75400000000002" font-size="6.4" text-anchor="end" font-weight="normal" font-style="normal"  stroke="#000" stroke-width="0.36">4</text>
<line x1="249.0" y1="209.625" x2="251.8" y2="209.625" stroke="#000" stroke-width="1.6" stroke-linecap="butt"/>
<text x="248.5" y="211.929" font-size="6.4" text-anchor="end" font-weight="normal" font-style="normal"  stroke="#000" stroke-width="0.36">6</text>
<line x1="249.0" y1="188.8" x2="251.8" y2="188.8" stroke="#000" stroke-width="1.6" stroke-linecap="butt"/>
<text x="248.5" y="191.104" font-size="6.4" text-anchor="end" font-weight="normal" font-style="normal"  stroke="#000" stroke-width="0.36">8</text>
<line x1="251.20000000000002" y1="272.1" x2="307" y2="272.1" stroke="#000" stroke-width="1.5" stroke-linecap="butt"/>
<line x1="261.25" y1="261.3" x2="261.25" y2="260.3" stroke="#000" stroke-width="1.25" stroke-linecap="butt"/>
<line x1="258.925" y1="260.6" x2="263.575" y2="260.6" stroke="#000" stroke-width="1.25" stroke-linecap="butt"/>
<rect x="258.1" y="261.6" width="6.30" height="10.50" fill="#fff" stroke="#000" stroke-width="1.25"/>
<line x1="271.25" y1="268" x2="271.25" y2="267" stroke="#000" stroke-width="1.25" stroke-linecap="butt"/>
<line x1="268.615" y1="267.3" x2="273.885" y2="267.3" stroke="#000" stroke-width="1.25" stroke-linecap="butt"/>
<rect x="267.6" y="268.3" width="7.30" height="3.80" fill="#000" stroke="#000" stroke-width="1.25"/>
<line x1="288.75" y1="224.3" x2="288.75" y2="220" stroke="#000" stroke-width="1.25" stroke-linecap="butt"/>
<line x1="286.425" y1="220.3" x2="291.075" y2="220.3" stroke="#000" stroke-width="1.25" stroke-linecap="butt"/>
<rect x="285.6" y="224.60000000000002" width="6.30" height="47.50" fill="#fff" stroke="#000" stroke-width="1.25"/>
<line x1="298.75" y1="260.8" x2="298.75" y2="257" stroke="#000" stroke-width="1.25" stroke-linecap="butt"/>
<line x1="296.115" y1="257.3" x2="301.385" y2="257.3" stroke="#000" stroke-width="1.25" stroke-linecap="butt"/>
<rect x="295.1" y="261.1" width="7.30" height="11.00" fill="#000" stroke="#000" stroke-width="1.25"/>
<line x1="266.0" y1="272.1" x2="266.0" y2="274.70000000000005" stroke="#000" stroke-width="1.5" stroke-linecap="butt"/>
<line x1="293.5" y1="272.1" x2="293.5" y2="274.70000000000005" stroke="#000" stroke-width="1.5" stroke-linecap="butt"/>
<text x="280.2" y="193.2" font-size="8.0" text-anchor="middle" font-weight="normal" font-style="italic" stroke="#000" stroke-width="0.42" stroke="#000" stroke-width="0.36">Itgam</text>
<text x="266" y="281.6" font-size="6.3" text-anchor="middle" font-weight="normal" font-style="normal"  stroke="#000" stroke-width="0.36">WT</text>
<text x="279.3" y="281.6" font-size="6.3" text-anchor="start" font-weight="normal" font-style="normal"  stroke="#000" stroke-width="0.36">hIAPP<tspan dy="-2.52" font-size="4.60">Tg/o</tspan></text>
<line x1="259.2" y1="217.5" x2="300" y2="217.5" stroke="#000" stroke-width="1.4" stroke-linecap="butt"/>
<text x="273.9" y="218.75" font-size="6.3" text-anchor="middle" font-weight="bold" font-style="normal" stroke="#000" stroke-width="0.3">***</text>
<text x="295.2" y="218.75" font-size="6.3" text-anchor="middle" font-weight="bold" font-style="normal" stroke="#000" stroke-width="0.3">***</text>
<line x1="318.5" y1="187.70000000000002" x2="318.5" y2="272.8" stroke="#000" stroke-width="1.6" stroke-linecap="butt"/>
<line x1="315.7" y1="272.2" x2="318.5" y2="272.2" stroke="#000" stroke-width="1.6" stroke-linecap="butt"/>
<text x="315.2" y="274.50399999999996" font-size="6.4" text-anchor="end" font-weight="normal" font-style="normal"  stroke="#000" stroke-width="0.36">0</text>
<line x1="315.7" y1="251.225" x2="318.5" y2="251.225" stroke="#000" stroke-width="1.6" stroke-linecap="butt"/>
<text x="315.2" y="253.529" font-size="6.4" text-anchor="end" font-weight="normal" font-style="normal"  stroke="#000" stroke-width="0.36">1</text>
<line x1="315.7" y1="230.25" x2="318.5" y2="230.25" stroke="#000" stroke-width="1.6" stroke-linecap="butt"/>
<text x="315.2" y="232.554" font-size="6.4" text-anchor="end" font-weight="normal" font-style="normal"  stroke="#000" stroke-width="0.36">2</text>
<line x1="315.7" y1="209.275" x2="318.5" y2="209.275" stroke="#000" stroke-width="1.6" stroke-linecap="butt"/>
<text x="315.2" y="211.579" font-size="6.4" text-anchor="end" font-weight="normal" font-style="normal"  stroke="#000" stroke-width="0.36">3</text>
<line x1="315.7" y1="188.3" x2="318.5" y2="188.3" stroke="#000" stroke-width="1.6" stroke-linecap="butt"/>
<text x="315.2" y="190.604" font-size="6.4" text-anchor="end" font-weight="normal" font-style="normal"  stroke="#000" stroke-width="0.36">4</text>
<line x1="317.9" y1="272.2" x2="374.3" y2="272.2" stroke="#000" stroke-width="1.5" stroke-linecap="butt"/>
<line x1="327.55" y1="250" x2="327.55" y2="247.5" stroke="#000" stroke-width="1.25" stroke-linecap="butt"/>
<line x1="325.225" y1="247.8" x2="329.875" y2="247.8" stroke="#000" stroke-width="1.25" stroke-linecap="butt"/>
<rect x="324.40000000000003" y="250.3" width="6.30" height="21.90" fill="#fff" stroke="#000" stroke-width="1.25"/>
<line x1="337.55" y1="265.2" x2="337.55" y2="263.4" stroke="#000" stroke-width="1.25" stroke-linecap="butt"/>
<line x1="334.915" y1="263.7" x2="340.185" y2="263.7" stroke="#000" stroke-width="1.25" stroke-linecap="butt"/>
<rect x="333.90000000000003" y="265.5" width="7.30" height="6.70" fill="#000" stroke="#000" stroke-width="1.25"/>
<line x1="355.05" y1="220" x2="355.05" y2="216.3" stroke="#000" stroke-width="1.25" stroke-linecap="butt"/>
<line x1="352.725" y1="216.60000000000002" x2="357.375" y2="216.60000000000002" stroke="#000" stroke-width="1.25" stroke-linecap="butt"/>
<rect x="351.90000000000003" y="220.3" width="6.30" height="51.90" fill="#fff" stroke="#000" stroke-width="1.25"/>
<line x1="365.15" y1="255.8" x2="365.15" y2="253.2" stroke="#000" stroke-width="1.25" stroke-linecap="butt"/>
<line x1="362.453" y1="253.5" x2="367.847" y2="253.5" stroke="#000" stroke-width="1.25" stroke-linecap="butt"/>
<rect x="361.40000000000003" y="256.1" width="7.50" height="16.10" fill="#000" stroke="#000" stroke-width="1.25"/>
<line x1="332.3" y1="272.2" x2="332.3" y2="274.8" stroke="#000" stroke-width="1.5" stroke-linecap="butt"/>
<line x1="359.8" y1="272.2" x2="359.8" y2="274.8" stroke="#000" stroke-width="1.5" stroke-linecap="butt"/>
<text x="346.3" y="191.79999999999998" font-size="8.0" text-anchor="middle" font-weight="normal" font-style="italic" stroke="#000" stroke-width="0.42" stroke="#000" stroke-width="0.36">Emr1</text>
<text x="332.5" y="282.1" font-size="6.3" text-anchor="middle" font-weight="normal" font-style="normal"  stroke="#000" stroke-width="0.36">WT</text>
<text x="345.5" y="282.1" font-size="6.3" text-anchor="start" font-weight="normal" font-style="normal"  stroke="#000" stroke-width="0.36">hIAPP<tspan dy="-2.52" font-size="4.60">Tg/o</tspan></text>
<line x1="325" y1="213.8" x2="367.5" y2="213.8" stroke="#000" stroke-width="1.4" stroke-linecap="butt"/>
<text x="340" y="215.05" font-size="6.3" text-anchor="middle" font-weight="bold" font-style="normal" stroke="#000" stroke-width="0.3">**</text>
<text x="361.3" y="215.05" font-size="6.3" text-anchor="middle" font-weight="bold" font-style="normal" stroke="#000" stroke-width="0.3">***</text>
<line x1="326" y1="245.4" x2="338.3" y2="245.4" stroke="#000" stroke-width="1.4" stroke-linecap="butt"/>
<text x="332.6" y="246.65" font-size="6.3" text-anchor="middle" font-weight="bold" font-style="normal" stroke="#000" stroke-width="0.3">***</text>
<line x1="392" y1="187.20000000000002" x2="392" y2="273.0" stroke="#000" stroke-width="1.6" stroke-linecap="butt"/>
<line x1="389.2" y1="272.4" x2="392" y2="272.4" stroke="#000" stroke-width="1.6" stroke-linecap="butt"/>
<text x="388.7" y="274.70399999999995" font-size="6.4" text-anchor="end" font-weight="normal" font-style="normal"  stroke="#000" stroke-width="0.36">0.0</text>
<line x1="389.2" y1="251.25" x2="392" y2="251.25" stroke="#000" stroke-width="1.6" stroke-linecap="butt"/>
<text x="388.7" y="253.554" font-size="6.4" text-anchor="end" font-weight="normal" font-style="normal"  stroke="#000" stroke-width="0.36">0.5</text>
<line x1="389.2" y1="230.1" x2="392" y2="230.1" stroke="#000" stroke-width="1.6" stroke-linecap="butt"/>
<text x="388.7" y="232.404" font-size="6.4" text-anchor="end" font-weight="normal" font-style="normal"  stroke="#000" stroke-width="0.36">1.0</text>
<line x1="389.2" y1="208.95" x2="392" y2="208.95" stroke="#000" stroke-width="1.6" stroke-linecap="butt"/>
<text x="388.7" y="211.254" font-size="6.4" text-anchor="end" font-weight="normal" font-style="normal"  stroke="#000" stroke-width="0.36">1.5</text>
<line x1="389.2" y1="187.8" x2="392" y2="187.8" stroke="#000" stroke-width="1.6" stroke-linecap="butt"/>
<text x="388.7" y="190.104" font-size="6.4" text-anchor="end" font-weight="normal" font-style="normal"  stroke="#000" stroke-width="0.36">2.0</text>
<line x1="391.4" y1="272.4" x2="448.4" y2="272.4" stroke="#000" stroke-width="1.5" stroke-linecap="butt"/>
<line x1="400.65" y1="232.5" x2="400.65" y2="228.2" stroke="#000" stroke-width="1.25" stroke-linecap="butt"/>
<line x1="398.387" y1="228.5" x2="402.91299999999995" y2="228.5" stroke="#000" stroke-width="1.25" stroke-linecap="butt"/>
<rect x="397.6" y="232.8" width="6.10" height="39.60" fill="#fff" stroke="#000" stroke-width="1.25"/>
<line x1="410.9" y1="219.2" x2="410.9" y2="216.8" stroke="#000" stroke-width="1.25" stroke-linecap="butt"/>
<line x1="408.358" y1="217.10000000000002" x2="413.44199999999995" y2="217.10000000000002" stroke="#000" stroke-width="1.25" stroke-linecap="butt"/>
<rect x="407.40000000000003" y="219.5" width="7.00" height="52.90" fill="#000" stroke="#000" stroke-width="1.25"/>
<line x1="429.15" y1="242.2" x2="429.15" y2="240" stroke="#000" stroke-width="1.25" stroke-linecap="butt"/>
<line x1="426.763" y1="240.3" x2="431.537" y2="240.3" stroke="#000" stroke-width="1.25" stroke-linecap="butt"/>
<rect x="425.90000000000003" y="242.5" width="6.50" height="29.90" fill="#fff" stroke="#000" stroke-width="1.25"/>
<line x1="439.85" y1="223.3" x2="439.85" y2="217.5" stroke="#000" stroke-width="1.25" stroke-linecap="butt"/>
<line x1="437.153" y1="217.8" x2="442.547" y2="217.8" stroke="#000" stroke-width="1.25" stroke-linecap="butt"/>
<rect x="436.1" y="223.60000000000002" width="7.50" height="48.80" fill="#000" stroke="#000" stroke-width="1.25"/>
<line x1="405.55" y1="272.4" x2="405.55" y2="275.0" stroke="#000" stroke-width="1.5" stroke-linecap="butt"/>
<line x1="434.25" y1="272.4" x2="434.25" y2="275.0" stroke="#000" stroke-width="1.5" stroke-linecap="butt"/>
<text x="421" y="191.6" font-size="8.0" text-anchor="middle" font-weight="normal" font-style="italic" stroke="#000" stroke-width="0.42" stroke="#000" stroke-width="0.36">Pdx1</text>
<text x="405.5" y="282.6" font-size="6.3" text-anchor="middle" font-weight="normal" font-style="normal"  stroke="#000" stroke-width="0.36">WT</text>
<text x="419.5" y="282.6" font-size="6.3" text-anchor="start" font-weight="normal" font-style="normal"  stroke="#000" stroke-width="0.36">hIAPP<tspan dy="-2.52" font-size="4.60">Tg/o</tspan></text>
<line x1="398.8" y1="214.5" x2="411.8" y2="214.5" stroke="#000" stroke-width="1.4" stroke-linecap="butt"/>
<text x="405.5" y="215.75" font-size="6.3" text-anchor="middle" font-weight="bold" font-style="normal" stroke="#000" stroke-width="0.3">*</text>
<line x1="429" y1="215" x2="442" y2="215" stroke="#000" stroke-width="1.4" stroke-linecap="butt"/>
<text x="435.3" y="216.25" font-size="6.3" text-anchor="middle" font-weight="bold" font-style="normal" stroke="#000" stroke-width="0.3">**</text>
<line x1="464.5" y1="188.20000000000002" x2="464.5" y2="272.90000000000003" stroke="#000" stroke-width="1.6" stroke-linecap="butt"/>
<line x1="461.7" y1="272.3" x2="464.5" y2="272.3" stroke="#000" stroke-width="1.6" stroke-linecap="butt"/>
<text x="461.2" y="274.604" font-size="6.4" text-anchor="end" font-weight="normal" font-style="normal"  stroke="#000" stroke-width="0.36">0.0</text>
<line x1="461.7" y1="251.425" x2="464.5" y2="251.425" stroke="#000" stroke-width="1.6" stroke-linecap="butt"/>
<text x="461.2" y="253.729" font-size="6.4" text-anchor="end" font-weight="normal" font-style="normal"  stroke="#000" stroke-width="0.36">0.5</text>
<line x1="461.7" y1="230.55" x2="464.5" y2="230.55" stroke="#000" stroke-width="1.6" stroke-linecap="butt"/>
<text x="461.2" y="232.854" font-size="6.4" text-anchor="end" font-weight="normal" font-style="normal"  stroke="#000" stroke-width="0.36">1.0</text>
<line x1="461.7" y1="209.675" x2="464.5" y2="209.675" stroke="#000" stroke-width="1.6" stroke-linecap="butt"/>
<text x="461.2" y="211.979" font-size="6.4" text-anchor="end" font-weight="normal" font-style="normal"  stroke="#000" stroke-width="0.36">1.5</text>
<line x1="461.7" y1="188.8" x2="464.5" y2="188.8" stroke="#000" stroke-width="1.6" stroke-linecap="butt"/>
<text x="461.2" y="191.104" font-size="6.4" text-anchor="end" font-weight="normal" font-style="normal"  stroke="#000" stroke-width="0.36">2.0</text>
<line x1="463.9" y1="272.3" x2="520" y2="272.3" stroke="#000" stroke-width="1.5" stroke-linecap="butt"/>
<line x1="473.75" y1="228.8" x2="473.75" y2="224.5" stroke="#000" stroke-width="1.25" stroke-linecap="butt"/>
<line x1="471.425" y1="224.8" x2="476.075" y2="224.8" stroke="#000" stroke-width="1.25" stroke-linecap="butt"/>
<rect x="470.6" y="229.10000000000002" width="6.30" height="43.20" fill="#fff" stroke="#000" stroke-width="1.25"/>
<line x1="483.75" y1="233.8" x2="483.75" y2="231.3" stroke="#000" stroke-width="1.25" stroke-linecap="butt"/>
<line x1="481.115" y1="231.60000000000002" x2="486.385" y2="231.60000000000002" stroke="#000" stroke-width="1.25" stroke-linecap="butt"/>
<rect x="480.1" y="234.10000000000002" width="7.30" height="38.20" fill="#000" stroke="#000" stroke-width="1.25"/>
<line x1="500.95000000000005" y1="239.5" x2="500.95000000000005" y2="237.5" stroke="#000" stroke-width="1.25" stroke-linecap="butt"/>
<line x1="498.56300000000005" y1="237.8" x2="503.33700000000005" y2="237.8" stroke="#000" stroke-width="1.25" stroke-linecap="butt"/>
<rect x="497.70000000000005" y="239.8" width="6.50" height="32.50" fill="#fff" stroke="#000" stroke-width="1.25"/>
<line x1="511.25" y1="234.5" x2="511.25" y2="231.8" stroke="#000" stroke-width="1.25" stroke-linecap="butt"/>
<line x1="508.615" y1="232.10000000000002" x2="513.885" y2="232.10000000000002" stroke="#000" stroke-width="1.25" stroke-linecap="butt"/>
<rect x="507.6" y="234.8" width="7.30" height="37.50" fill="#000" stroke="#000" stroke-width="1.25"/>
<line x1="478.5" y1="272.3" x2="478.5" y2="274.90000000000003" stroke="#000" stroke-width="1.5" stroke-linecap="butt"/>
<line x1="505.9" y1="272.3" x2="505.9" y2="274.90000000000003" stroke="#000" stroke-width="1.5" stroke-linecap="butt"/>
<text x="492.6" y="193.9" font-size="8.0" text-anchor="middle" font-weight="normal" font-style="italic" stroke="#000" stroke-width="0.42" stroke="#000" stroke-width="0.36">Ins2</text>
<text x="478.6" y="282.1" font-size="6.3" text-anchor="middle" font-weight="normal" font-style="normal"  stroke="#000" stroke-width="0.36">WT</text>
<text x="491.3" y="282.1" font-size="6.3" text-anchor="start" font-weight="normal" font-style="normal"  stroke="#000" stroke-width="0.36">hIAPP<tspan dy="-2.52" font-size="4.60">Tg/o</tspan></text>
<rect x="37.3" y="317.3" width="13.00" height="8.30" fill="#fff" stroke="#000" stroke-width="1.6"/>
<text x="52.5" y="324.3" font-size="8.4" text-anchor="start" font-weight="normal" font-style="normal"  stroke="#000" stroke-width="0.36">PBS-lip</text>
<rect x="84.8" y="317.3" width="13.70" height="8.30" fill="#000" stroke="#000" stroke-width="1.6"/>
<text x="100.8" y="324.3" font-size="8.4" text-anchor="start" font-weight="normal" font-style="normal"  stroke="#000" stroke-width="0.36">CLOD-lip</text>
<line x1="29.0" y1="360.6" x2="29.0" y2="437.2" stroke="#000" stroke-width="1.5" stroke-linecap="butt"/>
<line x1="28.4" y1="437.2" x2="70.2" y2="437.2" stroke="#000" stroke-width="1.5" stroke-linecap="butt"/>
<polygon points="29.0,356.6 25.7,362.90000000000003 32.3,362.90000000000003" fill="#000"/>
<polygon points="74.2,437.2 67.9,434.0 67.9,440.4" fill="#000"/>
<text x="27" y="447" font-size="7.2" text-anchor="start" font-weight="normal" font-style="normal"  textLength="31.5" lengthAdjust="spacingAndGlyphs" stroke="#000" stroke-width="0.36">Genotype</text>
<text x="14.5" y="408.5" font-size="6.8" text-anchor="middle" font-weight="normal" font-style="normal" transform="rotate(-90 14.5 408.5)"  textLength="49.2" lengthAdjust="spacingAndGlyphs" stroke="#000" stroke-width="0.36">mRNA expression</text>
<text x="22" y="408.5" font-size="6.8" text-anchor="middle" font-weight="normal" font-style="normal" transform="rotate(-90 22 408.5)"  textLength="54.5" lengthAdjust="spacingAndGlyphs" stroke="#000" stroke-width="0.36">(fold WT PBS-lip)</text>
<line x1="42.1" y1="336.4" x2="42.1" y2="422.6" stroke="#000" stroke-width="1.6" stroke-linecap="butt"/>
<line x1="39.300000000000004" y1="422.0" x2="42.1" y2="422.0" stroke="#000" stroke-width="1.6" stroke-linecap="butt"/>
<text x="38.800000000000004" y="424.304" font-size="6.4" text-anchor="end" font-weight="normal" font-style="normal"  stroke="#000" stroke-width="0.36">0</text>
<line x1="39.300000000000004" y1="393.6666666666667" x2="42.1" y2="393.6666666666667" stroke="#000" stroke-width="1.6" stroke-linecap="butt"/>
<text x="38.800000000000004" y="395.97066666666666" font-size="6.4" text-anchor="end" font-weight="normal" font-style="normal"  stroke="#000" stroke-width="0.36">1</text>
<line x1="39.300000000000004" y1="365.3333333333333" x2="42.1" y2="365.3333333333333" stroke="#000" stroke-width="1.6" stroke-linecap="butt"/>
<text x="38.800000000000004" y="367.6373333333333" font-size="6.4" text-anchor="end" font-weight="normal" font-style="normal"  stroke="#000" stroke-width="0.36">2</text>
<line x1="39.300000000000004" y1="337.0" x2="42.1" y2="337.0" stroke="#000" stroke-width="1.6" stroke-linecap="butt"/>
<text x="38.800000000000004" y="339.304" font-size="6.4" text-anchor="end" font-weight="normal" font-style="normal"  stroke="#000" stroke-width="0.36">3</text>
<line x1="41.5" y1="422" x2="96.3" y2="422" stroke="#000" stroke-width="1.5" stroke-linecap="butt"/>
<line x1="51.0" y1="391.8" x2="51.0" y2="387.5" stroke="#000" stroke-width="1.25" stroke-linecap="butt"/>
<line x1="48.83" y1="387.8" x2="53.17" y2="387.8" stroke="#000" stroke-width="1.25" stroke-linecap="butt"/>
<rect x="48.1" y="392.1" width="5.80" height="29.90" fill="#fff" stroke="#000" stroke-width="1.25"/>
<line x1="61.25" y1="416.8" x2="61.25" y2="416" stroke="#000" stroke-width="1.25" stroke-linecap="butt"/>
<line x1="58.615" y1="416.3" x2="63.885" y2="416.3" stroke="#000" stroke-width="1.25" stroke-linecap="butt"/>
<rect x="57.6" y="417.1" width="7.30" height="4.90" fill="#000" stroke="#000" stroke-width="1.25"/>
<line x1="78.5" y1="406.8" x2="78.5" y2="406" stroke="#000" stroke-width="1.25" stroke-linecap="butt"/>
<line x1="76.33" y1="406.3" x2="80.67" y2="406.3" stroke="#000" stroke-width="1.25" stroke-linecap="butt"/>
<rect x="75.6" y="407.1" width="5.80" height="14.90" fill="#fff" stroke="#000" stroke-width="1.25"/>
<line x1="88.75" y1="419.3" x2="88.75" y2="418.8" stroke="#000" stroke-width="1.25" stroke-linecap="butt"/>
<line x1="86.115" y1="419.1" x2="91.385" y2="419.1" stroke="#000" stroke-width="1.25" stroke-linecap="butt"/>
<rect x="85.1" y="419.6" width="7.30" height="2.40" fill="#000" stroke="#000" stroke-width="1.25"/>
<line x1="55.75" y1="422" x2="55.75" y2="424.6" stroke="#000" stroke-width="1.5" stroke-linecap="butt"/>
<line x1="83.25" y1="422" x2="83.25" y2="424.6" stroke="#000" stroke-width="1.5" stroke-linecap="butt"/>
<text x="68.8" y="342.1" font-size="8.0" text-anchor="middle" font-weight="normal" font-style="italic" stroke="#000" stroke-width="0.42" stroke="#000" stroke-width="0.36">Tnf</text>
<text x="55.3" y="431.6" font-size="6.3" text-anchor="middle" font-weight="normal" font-style="normal"  stroke="#000" stroke-width="0.36">WT</text>
<text x="68.8" y="431.6" font-size="6.3" text-anchor="start" font-weight="normal" font-style="normal"  stroke="#000" stroke-width="0.36">hIAPP<tspan dy="-2.52" font-size="4.60">Tg/o</tspan></text>
<line x1="50" y1="378" x2="80" y2="378" stroke="#000" stroke-width="1.4" stroke-linecap="butt"/>
<text x="64.5" y="379.25" font-size="6.3" text-anchor="middle" font-weight="bold" font-style="normal" stroke="#000" stroke-width="0.3">**</text>
<line x1="50" y1="385" x2="61.3" y2="385" stroke="#000" stroke-width="1.4" stroke-linecap="butt"/>
<text x="55.5" y="386.25" font-size="6.3" text-anchor="middle" font-weight="bold" font-style="normal" stroke="#000" stroke-width="0.3">***</text>
<line x1="77.2" y1="403.7" x2="87.9" y2="403.7" stroke="#000" stroke-width="1.4" stroke-linecap="butt"/>
<text x="82.5" y="404.95" font-size="6.3" text-anchor="middle" font-weight="bold" font-style="normal" stroke="#000" stroke-width="0.3">**</text>
<line x1="107.1" y1="335.7" x2="107.1" y2="422.3" stroke="#000" stroke-width="1.6" stroke-linecap="butt"/>
<line x1="104.3" y1="421.7" x2="107.1" y2="421.7" stroke="#000" stroke-width="1.6" stroke-linecap="butt"/>
<text x="103.8" y="424.00399999999996" font-size="6.4" text-anchor="end" font-weight="normal" font-style="normal"  stroke="#000" stroke-width="0.36">0</text>
<line x1="104.3" y1="393.23333333333335" x2="107.1" y2="393.23333333333335" stroke="#000" stroke-width="1.6" stroke-linecap="butt"/>
<text x="103.8" y="395.5373333333333" font-size="6.4" text-anchor="end" font-weight="normal" font-style="normal"  stroke="#000" stroke-width="0.36">1</text>
<line x1="104.3" y1="364.76666666666665" x2="107.1" y2="364.76666666666665" stroke="#000" stroke-width="1.6" stroke-linecap="butt"/>
<text x="103.8" y="367.0706666666666" font-size="6.4" text-anchor="end" font-weight="normal" font-style="normal"  stroke="#000" stroke-width="0.36">2</text>
<line x1="104.3" y1="336.3" x2="107.1" y2="336.3" stroke="#000" stroke-width="1.6" stroke-linecap="butt"/>
<text x="103.8" y="338.604" font-size="6.4" text-anchor="end" font-weight="normal" font-style="normal"  stroke="#000" stroke-width="0.36">3</text>
<line x1="106.5" y1="421.7" x2="164" y2="421.7" stroke="#000" stroke-width="1.5" stroke-linecap="butt"/>
<line x1="116.15" y1="390.5" x2="116.15" y2="385.5" stroke="#000" stroke-width="1.25" stroke-linecap="butt"/>
<line x1="113.763" y1="385.8" x2="118.537" y2="385.8" stroke="#000" stroke-width="1.25" stroke-linecap="butt"/>
<rect x="112.89999999999999" y="390.8" width="6.50" height="30.90" fill="#fff" stroke="#000" stroke-width="1.25"/>
<line x1="126.25" y1="412.3" x2="126.25" y2="410.3" stroke="#000" stroke-width="1.25" stroke-linecap="butt"/>
<line x1="123.615" y1="410.6" x2="128.885" y2="410.6" stroke="#000" stroke-width="1.25" stroke-linecap="butt"/>
<rect x="122.6" y="412.6" width="7.30" height="9.10" fill="#000" stroke="#000" stroke-width="1.25"/>
<line x1="144.4" y1="402.8" x2="144.4" y2="399.8" stroke="#000" stroke-width="1.25" stroke-linecap="butt"/>
<line x1="142.168" y1="400.1" x2="146.632" y2="400.1" stroke="#000" stroke-width="1.25" stroke-linecap="butt"/>
<rect x="141.4" y="403.1" width="6.00" height="18.60" fill="#fff" stroke="#000" stroke-width="1.25"/>
<line x1="154.4" y1="414" x2="154.4" y2="412.3" stroke="#000" stroke-width="1.25" stroke-linecap="butt"/>
<line x1="151.672" y1="412.6" x2="157.12800000000001" y2="412.6" stroke="#000" stroke-width="1.25" stroke-linecap="butt"/>
<rect x="150.6" y="414.3" width="7.60" height="7.40" fill="#000" stroke="#000" stroke-width="1.25"/>
<line x1="121.0" y1="421.7" x2="121.0" y2="424.3" stroke="#000" stroke-width="1.5" stroke-linecap="butt"/>
<line x1="149.0" y1="421.7" x2="149.0" y2="424.3" stroke="#000" stroke-width="1.5" stroke-linecap="butt"/>
<text x="135" y="341.90000000000003" font-size="8.0" text-anchor="middle" font-weight="normal" font-style="italic" stroke="#000" stroke-width="0.42" stroke="#000" stroke-width="0.36">Ccl2</text>
<text x="121" y="431.6" font-size="6.3" text-anchor="middle" font-weight="normal" font-style="normal"  stroke="#000" stroke-width="0.36">WT</text>
<text x="135" y="431.6" font-size="6.3" text-anchor="start" font-weight="normal" font-style="normal"  stroke="#000" stroke-width="0.36">hIAPP<tspan dy="-2.52" font-size="4.60">Tg/o</tspan></text>
<line x1="115" y1="376.8" x2="145" y2="376.8" stroke="#000" stroke-width="1.4" stroke-linecap="butt"/>
<text x="128.8" y="378.05" font-size="6.3" text-anchor="middle" font-weight="bold" font-style="normal" stroke="#000" stroke-width="0.3">**</text>
<line x1="115" y1="384.2" x2="127" y2="384.2" stroke="#000" stroke-width="1.4" stroke-linecap="butt"/>
<text x="120.8" y="385.45" font-size="6.3" text-anchor="middle" font-weight="bold" font-style="normal" stroke="#000" stroke-width="0.3">***</text>
<line x1="181.6" y1="335.4" x2="181.6" y2="421.8" stroke="#000" stroke-width="1.6" stroke-linecap="butt"/>
<line x1="178.79999999999998" y1="421.2" x2="181.6" y2="421.2" stroke="#000" stroke-width="1.6" stroke-linecap="butt"/>
<text x="178.29999999999998" y="423.50399999999996" font-size="6.4" text-anchor="end" font-weight="normal" font-style="normal"  stroke="#000" stroke-width="0.36">0</text>
<line x1="178.79999999999998" y1="392.8" x2="181.6" y2="392.8" stroke="#000" stroke-width="1.6" stroke-linecap="butt"/>
<text x="178.29999999999998" y="395.104" font-size="6.4" text-anchor="end" font-weight="normal" font-style="normal"  stroke="#000" stroke-width="0.36">1</text>
<line x1="178.79999999999998" y1="364.4" x2="181.6" y2="364.4" stroke="#000" stroke-width="1.6" stroke-linecap="butt"/>
<text x="178.29999999999998" y="366.70399999999995" font-size="6.4" text-anchor="end" font-weight="normal" font-style="normal"  stroke="#000" stroke-width="0.36">2</text>
<line x1="178.79999999999998" y1="336.0" x2="181.6" y2="336.0" stroke="#000" stroke-width="1.6" stroke-linecap="butt"/>
<text x="178.29999999999998" y="338.304" font-size="6.4" text-anchor="end" font-weight="normal" font-style="normal"  stroke="#000" stroke-width="0.36">3</text>
<line x1="181.0" y1="421.2" x2="237" y2="421.2" stroke="#000" stroke-width="1.5" stroke-linecap="butt"/>
<line x1="190.05" y1="392.6" x2="190.05" y2="391.6" stroke="#000" stroke-width="1.25" stroke-linecap="butt"/>
<line x1="187.72500000000002" y1="391.90000000000003" x2="192.375" y2="391.90000000000003" stroke="#000" stroke-width="1.25" stroke-linecap="butt"/>
<rect x="186.9" y="392.90000000000003" width="6.30" height="28.30" fill="#fff" stroke="#000" stroke-width="1.25"/>
<line x1="200.15" y1="416.5" x2="200.15" y2="415.8" stroke="#000" stroke-width="1.25" stroke-linecap="butt"/>
<line x1="197.453" y1="416.1" x2="202.847" y2="416.1" stroke="#000" stroke-width="1.25" stroke-linecap="butt"/>
<rect x="196.4" y="416.8" width="7.50" height="4.40" fill="#000" stroke="#000" stroke-width="1.25"/>
<line x1="218.15" y1="360.5" x2="218.15" y2="354.3" stroke="#000" stroke-width="1.25" stroke-linecap="butt"/>
<line x1="215.887" y1="354.6" x2="220.413" y2="354.6" stroke="#000" stroke-width="1.25" stroke-linecap="butt"/>
<rect x="215.1" y="360.8" width="6.10" height="60.40" fill="#fff" stroke="#000" stroke-width="1.25"/>
<line x1="228.4" y1="414.3" x2="228.4" y2="412.3" stroke="#000" stroke-width="1.25" stroke-linecap="butt"/>
<line x1="225.858" y1="412.6" x2="230.942" y2="412.6" stroke="#000" stroke-width="1.25" stroke-linecap="butt"/>
<rect x="224.9" y="414.6" width="7.00" height="6.60" fill="#000" stroke="#000" stroke-width="1.25"/>
<line x1="194.8" y1="421.2" x2="194.8" y2="423.8" stroke="#000" stroke-width="1.5" stroke-linecap="butt"/>
<line x1="223.05" y1="421.2" x2="223.05" y2="423.8" stroke="#000" stroke-width="1.5" stroke-linecap="butt"/>
<text x="209.6" y="341.3" font-size="8.0" text-anchor="middle" font-weight="normal" font-style="italic" stroke="#000" stroke-width="0.42" stroke="#000" stroke-width="0.36">Il1b</text>
<text x="195" y="430.8" font-size="6.3" text-anchor="middle" font-weight="normal" font-style="normal"  stroke="#000" stroke-width="0.36">WT</text>
<text x="208.6" y="430.8" font-size="6.3" text-anchor="start" font-weight="normal" font-style="normal"  stroke="#000" stroke-width="0.36">hIAPP<tspan dy="-2.52" font-size="4.60">Tg/o</tspan></text>
<line x1="189.5" y1="351.8" x2="228.8" y2="351.8" stroke="#000" stroke-width="1.4" stroke-linecap="butt"/>
<text x="204.5" y="353.05" font-size="6.3" text-anchor="middle" font-weight="bold" font-style="normal" stroke="#000" stroke-width="0.3">***</text>
<text x="223.8" y="353.05" font-size="6.3" text-anchor="middle" font-weight="bold" font-style="normal" stroke="#000" stroke-width="0.3">***</text>
<line x1="188.8" y1="389.3" x2="201.3" y2="389.3" stroke="#000" stroke-width="1.4" stroke-linecap="butt"/>
<text x="195" y="390.55" font-size="6.3" text-anchor="middle" font-weight="bold" font-style="normal" stroke="#000" stroke-width="0.3">***</text>
<line x1="253.1" y1="338.7" x2="253.1" y2="422.0" stroke="#000" stroke-width="1.6" stroke-linecap="butt"/>
<line x1="250.29999999999998" y1="421.4" x2="253.1" y2="421.4" stroke="#000" stroke-width="1.6" stroke-linecap="butt"/>
<text x="249.79999999999998" y="423.70399999999995" font-size="6.4" text-anchor="end" font-weight="normal" font-style="normal"  stroke="#000" stroke-width="0.36">0</text>
<line x1="250.29999999999998" y1="394.0333333333333" x2="253.1" y2="394.0333333333333" stroke="#000" stroke-width="1.6" stroke-linecap="butt"/>
<text x="249.79999999999998" y="396.3373333333333" font-size="6.4" text-anchor="end" font-weight="normal" font-style="normal"  stroke="#000" stroke-width="0.36">1</text>
<line x1="250.29999999999998" y1="366.6666666666667" x2="253.1" y2="366.6666666666667" stroke="#000" stroke-width="1.6" stroke-linecap="butt"/>
<text x="249.79999999999998" y="368.97066666666666" font-size="6.4" text-anchor="end" font-weight="normal" font-style="normal"  stroke="#000" stroke-width="0.36">2</text>
<line x1="250.29999999999998" y1="339.3" x2="253.1" y2="339.3" stroke="#000" stroke-width="1.6" stroke-linecap="butt"/>
<text x="249.79999999999998" y="341.604" font-size="6.4" text-anchor="end" font-weight="normal" font-style="normal"  stroke="#000" stroke-width="0.36">3</text>
<line x1="252.5" y1="421.4" x2="307.6" y2="421.4" stroke="#000" stroke-width="1.5" stroke-linecap="butt"/>
<line x1="261.5" y1="393.5" x2="261.5" y2="392.6" stroke="#000" stroke-width="1.25" stroke-linecap="butt"/>
<line x1="259.33" y1="392.90000000000003" x2="263.67" y2="392.90000000000003" stroke="#000" stroke-width="1.25" stroke-linecap="butt"/>
<rect x="258.6" y="393.8" width="5.80" height="27.60" fill="#fff" stroke="#000" stroke-width="1.25"/>
<line x1="271.65" y1="415.3" x2="271.65" y2="414.5" stroke="#000" stroke-width="1.25" stroke-linecap="butt"/>
<line x1="269.077" y1="414.8" x2="274.22299999999996" y2="414.8" stroke="#000" stroke-width="1.25" stroke-linecap="butt"/>
<rect x="268.1" y="415.6" width="7.10" height="5.80" fill="#000" stroke="#000" stroke-width="1.25"/>
<line x1="289.0" y1="384.8" x2="289.0" y2="380" stroke="#000" stroke-width="1.25" stroke-linecap="butt"/>
<line x1="286.83" y1="380.3" x2="291.17" y2="380.3" stroke="#000" stroke-width="1.25" stroke-linecap="butt"/>
<rect x="286.1" y="385.1" width="5.80" height="36.30" fill="#fff" stroke="#000" stroke-width="1.25"/>
<line x1="299.15" y1="414.8" x2="299.15" y2="414" stroke="#000" stroke-width="1.25" stroke-linecap="butt"/>
<line x1="296.577" y1="414.3" x2="301.72299999999996" y2="414.3" stroke="#000" stroke-width="1.25" stroke-linecap="butt"/>
<rect x="295.6" y="415.1" width="7.10" height="6.30" fill="#000" stroke="#000" stroke-width="1.25"/>
<line x1="266.25" y1="421.4" x2="266.25" y2="424.0" stroke="#000" stroke-width="1.5" stroke-linecap="butt"/>
<line x1="293.75" y1="421.4" x2="293.75" y2="424.0" stroke="#000" stroke-width="1.5" stroke-linecap="butt"/>
<text x="281" y="343.0" font-size="8.0" text-anchor="middle" font-weight="normal" font-style="italic" stroke="#000" stroke-width="0.42" stroke="#000" stroke-width="0.36">Nlrp3</text>
<text x="266.5" y="430.8" font-size="6.3" text-anchor="middle" font-weight="normal" font-style="normal"  stroke="#000" stroke-width="0.36">WT</text>
<text x="279" y="430.8" font-size="6.3" text-anchor="start" font-weight="normal" font-style="normal"  stroke="#000" stroke-width="0.36">hIAPP<tspan dy="-2.52" font-size="4.60">Tg/o</tspan></text>
<line x1="260.5" y1="377.3" x2="300" y2="377.3" stroke="#000" stroke-width="1.4" stroke-linecap="butt"/>
<text x="275" y="378.55" font-size="6.3" text-anchor="middle" font-weight="bold" font-style="normal" stroke="#000" stroke-width="0.3">*</text>
<text x="295.5" y="378.55" font-size="6.3" text-anchor="middle" font-weight="bold" font-style="normal" stroke="#000" stroke-width="0.3">***</text>
<line x1="261.3" y1="390" x2="272.4" y2="390" stroke="#000" stroke-width="1.4" stroke-linecap="butt"/>
<text x="266.5" y="391.25" font-size="6.3" text-anchor="middle" font-weight="bold" font-style="normal" stroke="#000" stroke-width="0.3">***</text>
<rect x="345.2" y="314.9" width="13.60" height="8.30" fill="#fff" stroke="#000" stroke-width="1.6"/>
<text x="361.3" y="321.9" font-size="8.4" text-anchor="start" font-weight="normal" font-style="normal"  stroke="#000" stroke-width="0.36">PBS-lip</text>
<rect x="393.6" y="314.9" width="14.00" height="8.30" fill="#000" stroke="#000" stroke-width="1.6"/>
<text x="409.5" y="321.9" font-size="8.4" text-anchor="start" font-weight="normal" font-style="normal"  stroke="#000" stroke-width="0.36">CLOD-lip</text>
<line x1="361.4" y1="356" x2="361.4" y2="432.7" stroke="#000" stroke-width="1.5" stroke-linecap="butt"/>
<line x1="360.79999999999995" y1="432.7" x2="402.6" y2="432.7" stroke="#000" stroke-width="1.5" stroke-linecap="butt"/>
<polygon points="361.4,352 358.09999999999997,358.3 364.7,358.3" fill="#000"/>
<polygon points="406.6,432.7 400.3,429.5 400.3,435.9" fill="#000"/>
<text x="358.6" y="441.4" font-size="7.2" text-anchor="start" font-weight="normal" font-style="normal"  textLength="31.5" lengthAdjust="spacingAndGlyphs" stroke="#000" stroke-width="0.36">Genotype</text>
<text x="350.2" y="402.5" font-size="7.6" text-anchor="middle" font-weight="normal" font-style="normal" transform="rotate(-90 350.2 402.5)"  textLength="57.5" lengthAdjust="spacingAndGlyphs" stroke="#000" stroke-width="0.36">mRNA expression</text>
<text x="357.9" y="402.5" font-size="7.6" text-anchor="middle" font-weight="normal" font-style="normal" transform="rotate(-90 357.9 402.5)"  textLength="40.5" lengthAdjust="spacingAndGlyphs" stroke="#000" stroke-width="0.36">(fold WT PBS)</text>
<line x1="381.0" y1="330.79999999999995" x2="381.0" y2="418.1" stroke="#000" stroke-width="1.6" stroke-linecap="butt"/>
<line x1="378.2" y1="417.5" x2="381.0" y2="417.5" stroke="#000" stroke-width="1.6" stroke-linecap="butt"/>
<text x="377.7" y="419.804" font-size="6.4" text-anchor="end" font-weight="normal" font-style="normal"  stroke="#000" stroke-width="0.36">0.0</text>
<line x1="378.2" y1="395.975" x2="381.0" y2="395.975" stroke="#000" stroke-width="1.6" stroke-linecap="butt"/>
<text x="377.7" y="398.279" font-size="6.4" text-anchor="end" font-weight="normal" font-style="normal"  stroke="#000" stroke-width="0.36">0.5</text>
<line x1="378.2" y1="374.45" x2="381.0" y2="374.45" stroke="#000" stroke-width="1.6" stroke-linecap="butt"/>
<text x="377.7" y="376.75399999999996" font-size="6.4" text-anchor="end" font-weight="normal" font-style="normal"  stroke="#000" stroke-width="0.36">1.0</text>
<line x1="378.2" y1="352.92499999999995" x2="381.0" y2="352.92499999999995" stroke="#000" stroke-width="1.6" stroke-linecap="butt"/>
<text x="377.7" y="355.2289999999999" font-size="6.4" text-anchor="end" font-weight="normal" font-style="normal"  stroke="#000" stroke-width="0.36">1.5</text>
<line x1="378.2" y1="331.4" x2="381.0" y2="331.4" stroke="#000" stroke-width="1.6" stroke-linecap="butt"/>
<text x="377.7" y="333.70399999999995" font-size="6.4" text-anchor="end" font-weight="normal" font-style="normal"  stroke="#000" stroke-width="0.36">2.0</text>
<line x1="380.4" y1="417.5" x2="437.4" y2="417.5" stroke="#000" stroke-width="1.5" stroke-linecap="butt"/>
<line x1="389.9" y1="373" x2="389.9" y2="369.5" stroke="#000" stroke-width="1.25" stroke-linecap="butt"/>
<line x1="387.668" y1="369.8" x2="392.13199999999995" y2="369.8" stroke="#000" stroke-width="1.25" stroke-linecap="butt"/>
<rect x="386.90000000000003" y="373.3" width="6.00" height="44.20" fill="#fff" stroke="#000" stroke-width="1.25"/>
<line x1="400.05" y1="409.3" x2="400.05" y2="408.5" stroke="#000" stroke-width="1.25" stroke-linecap="butt"/>
<line x1="397.415" y1="408.8" x2="402.685" y2="408.8" stroke="#000" stroke-width="1.25" stroke-linecap="butt"/>
<rect x="396.40000000000003" y="409.6" width="7.30" height="7.90" fill="#000" stroke="#000" stroke-width="1.25"/>
<line x1="417.8" y1="403" x2="417.8" y2="400.8" stroke="#000" stroke-width="1.25" stroke-linecap="butt"/>
<line x1="415.63" y1="401.1" x2="419.97" y2="401.1" stroke="#000" stroke-width="1.25" stroke-linecap="butt"/>
<rect x="414.90000000000003" y="403.3" width="5.80" height="14.20" fill="#fff" stroke="#000" stroke-width="1.25"/>
<line x1="427.9" y1="407" x2="427.9" y2="404.5" stroke="#000" stroke-width="1.25" stroke-linecap="butt"/>
<line x1="425.358" y1="404.8" x2="430.44199999999995" y2="404.8" stroke="#000" stroke-width="1.25" stroke-linecap="butt"/>
<rect x="424.40000000000003" y="407.3" width="7.00" height="10.20" fill="#000" stroke="#000" stroke-width="1.25"/>
<line x1="394.65" y1="417.5" x2="394.65" y2="420.1" stroke="#000" stroke-width="1.5" stroke-linecap="butt"/>
<line x1="422.55" y1="417.5" x2="422.55" y2="420.1" stroke="#000" stroke-width="1.5" stroke-linecap="butt"/>
<text x="409" y="336.20000000000005" font-size="8.4" text-anchor="middle" font-weight="normal" font-style="italic" stroke="#000" stroke-width="0.42" stroke="#000" stroke-width="0.36">Il10</text>
<text x="394.5" y="427.3" font-size="6.3" text-anchor="middle" font-weight="normal" font-style="normal"  stroke="#000" stroke-width="0.36">WT</text>
<text x="407.5" y="427.3" font-size="6.3" text-anchor="start" font-weight="normal" font-style="normal"  stroke="#000" stroke-width="0.36">hIAPP<tspan dy="-2.52" font-size="4.60">Tg/o</tspan></text>
<line x1="388.8" y1="358.8" x2="420" y2="358.8" stroke="#000" stroke-width="1.4" stroke-linecap="butt"/>
<text x="403.8" y="360.05" font-size="6.3" text-anchor="middle" font-weight="bold" font-style="normal" stroke="#000" stroke-width="0.3">***</text>
<line x1="388.8" y1="366.3" x2="400.5" y2="366.3" stroke="#000" stroke-width="1.4" stroke-linecap="butt"/>
<text x="394.5" y="367.55" font-size="6.3" text-anchor="middle" font-weight="bold" font-style="normal" stroke="#000" stroke-width="0.3">***</text>
<line x1="451.4" y1="334.59999999999997" x2="451.4" y2="418.40000000000003" stroke="#000" stroke-width="1.6" stroke-linecap="butt"/>
<line x1="448.59999999999997" y1="417.8" x2="451.4" y2="417.8" stroke="#000" stroke-width="1.6" stroke-linecap="butt"/>
<text x="448.09999999999997" y="420.104" font-size="6.4" text-anchor="end" font-weight="normal" font-style="normal"  stroke="#000" stroke-width="0.36">0.0</text>
<line x1="448.59999999999997" y1="397.15" x2="451.4" y2="397.15" stroke="#000" stroke-width="1.6" stroke-linecap="butt"/>
<text x="448.09999999999997" y="399.45399999999995" font-size="6.4" text-anchor="end" font-weight="normal" font-style="normal"  stroke="#000" stroke-width="0.36">0.5</text>
<line x1="448.59999999999997" y1="376.5" x2="451.4" y2="376.5" stroke="#000" stroke-width="1.6" stroke-linecap="butt"/>
<text x="448.09999999999997" y="378.804" font-size="6.4" text-anchor="end" font-weight="normal" font-style="normal"  stroke="#000" stroke-width="0.36">1.0</text>
<line x1="448.59999999999997" y1="355.85" x2="451.4" y2="355.85" stroke="#000" stroke-width="1.6" stroke-linecap="butt"/>
<text x="448.09999999999997" y="358.154" font-size="6.4" text-anchor="end" font-weight="normal" font-style="normal"  stroke="#000" stroke-width="0.36">1.5</text>
<line x1="448.59999999999997" y1="335.2" x2="451.4" y2="335.2" stroke="#000" stroke-width="1.6" stroke-linecap="butt"/>
<text x="448.09999999999997" y="337.50399999999996" font-size="6.4" text-anchor="end" font-weight="normal" font-style="normal"  stroke="#000" stroke-width="0.36">2.0</text>
<line x1="450.79999999999995" y1="417.8" x2="506.8" y2="417.8" stroke="#000" stroke-width="1.5" stroke-linecap="butt"/>
<line x1="460.35" y1="375.9" x2="460.35" y2="372" stroke="#000" stroke-width="1.25" stroke-linecap="butt"/>
<line x1="458.08700000000005" y1="372.3" x2="462.613" y2="372.3" stroke="#000" stroke-width="1.25" stroke-linecap="butt"/>
<rect x="457.3" y="376.2" width="6.10" height="41.60" fill="#fff" stroke="#000" stroke-width="1.25"/>
<line x1="470.0" y1="413.3" x2="470.0" y2="412.6" stroke="#000" stroke-width="1.25" stroke-linecap="butt"/>
<line x1="467.52" y1="412.90000000000003" x2="472.48" y2="412.90000000000003" stroke="#000" stroke-width="1.25" stroke-linecap="butt"/>
<rect x="466.6" y="413.6" width="6.80" height="4.20" fill="#000" stroke="#000" stroke-width="1.25"/>
<line x1="487.5" y1="389.0" x2="487.5" y2="386.2" stroke="#000" stroke-width="1.25" stroke-linecap="butt"/>
<line x1="485.206" y1="386.5" x2="489.794" y2="386.5" stroke="#000" stroke-width="1.25" stroke-linecap="butt"/>
<rect x="484.40000000000003" y="389.3" width="6.20" height="28.50" fill="#fff" stroke="#000" stroke-width="1.25"/>
<line x1="497.45" y1="413.3" x2="497.45" y2="412.6" stroke="#000" stroke-width="1.25" stroke-linecap="butt"/>
<line x1="495.001" y1="412.90000000000003" x2="499.899" y2="412.90000000000003" stroke="#000" stroke-width="1.25" stroke-linecap="butt"/>
<rect x="494.1" y="413.6" width="6.70" height="4.20" fill="#000" stroke="#000" stroke-width="1.25"/>
<line x1="465.0" y1="417.8" x2="465.0" y2="420.40000000000003" stroke="#000" stroke-width="1.5" stroke-linecap="butt"/>
<line x1="492.35" y1="417.8" x2="492.35" y2="420.40000000000003" stroke="#000" stroke-width="1.5" stroke-linecap="butt"/>
<text x="478.4" y="340.20000000000005" font-size="8.4" text-anchor="middle" font-weight="normal" font-style="italic" stroke="#000" stroke-width="0.42" stroke="#000" stroke-width="0.36">Il1rn</text>
<text x="465.2" y="427.6" font-size="6.3" text-anchor="middle" font-weight="normal" font-style="normal"  stroke="#000" stroke-width="0.36">WT</text>
<text x="478.7" y="427.6" font-size="6.3" text-anchor="start" font-weight="normal" font-style="normal"  stroke="#000" stroke-width="0.36">hIAPP<tspan dy="-2.52" font-size="4.60">Tg/o</tspan></text>
<line x1="458.7" y1="363.8" x2="489" y2="363.8" stroke="#000" stroke-width="1.4" stroke-linecap="butt"/>
<text x="472.8" y="365.05" font-size="6.3" text-anchor="middle" font-weight="bold" font-style="normal" stroke="#000" stroke-width="0.3">**</text>
<line x1="459.5" y1="370.6" x2="470.5" y2="370.6" stroke="#000" stroke-width="1.4" stroke-linecap="butt"/>
<text x="465.5" y="371.85" font-size="6.3" text-anchor="middle" font-weight="bold" font-style="normal" stroke="#000" stroke-width="0.3">***</text>
<line x1="486.7" y1="383.8" x2="498" y2="383.8" stroke="#000" stroke-width="1.4" stroke-linecap="butt"/>
<text x="492.6" y="385.05" font-size="6.3" text-anchor="middle" font-weight="bold" font-style="normal" stroke="#000" stroke-width="0.3">***</text>
</svg>
</body></html>
